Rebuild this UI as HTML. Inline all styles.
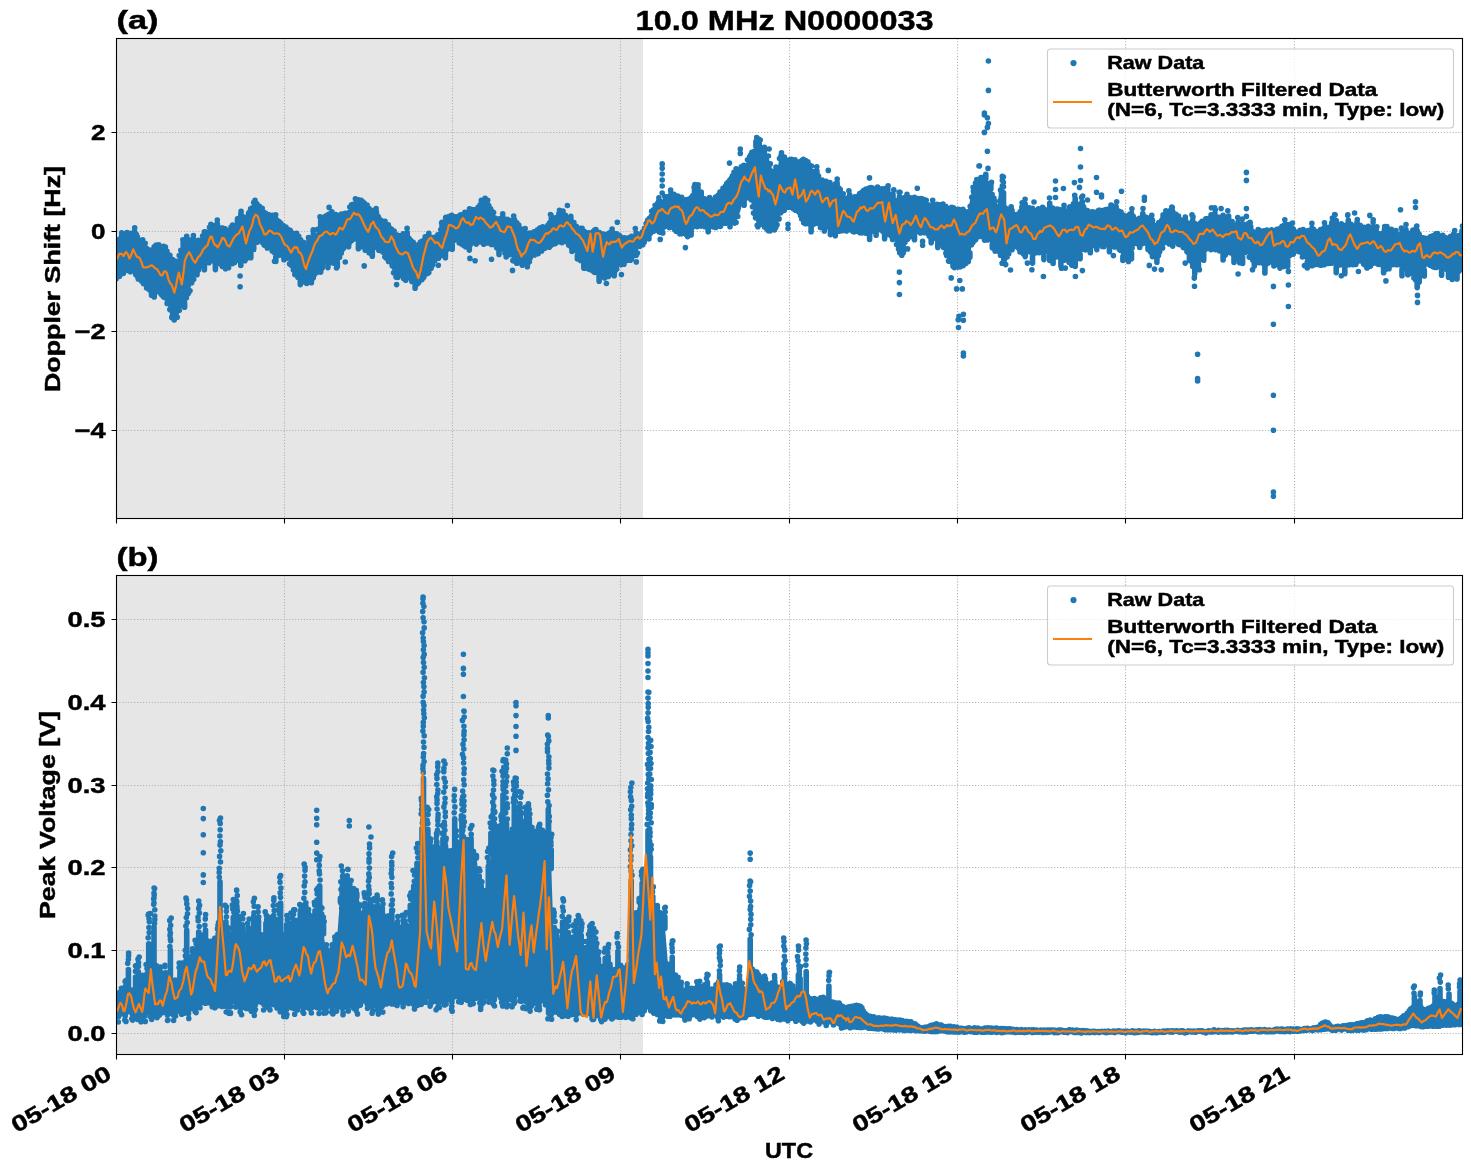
<!DOCTYPE html><html><head><meta charset="utf-8"><style>html,body{margin:0;padding:0;background:#fff;overflow:hidden}svg{will-change:transform}</style></head><body><svg width="1471" height="1172" viewBox="0 0 1471 1172" style="display:block">
<rect width="100%" height="100%" fill="#fff"/>
<defs><clipPath id="ca"><rect x="116.5" y="38.5" width="1346.0" height="480.0"/></clipPath><clipPath id="cb"><rect x="116.5" y="575.5" width="1346.0" height="479.0"/></clipPath></defs>
<rect x="116.5" y="38.5" width="526.5" height="480.0" fill="#e6e6e6"/>
<path d="M116.5 38.5V518.5 M284.5 38.5V518.5 M452.5 38.5V518.5 M620.5 38.5V518.5 M789.5 38.5V518.5 M957.5 38.5V518.5 M1125.5 38.5V518.5 M1294.5 38.5V518.5 M116.5 132.5H1462.5 M116.5 231.5H1462.5 M116.5 331.5H1462.5 M116.5 430.5H1462.5" stroke="#b0b0b0" stroke-width="1.1" stroke-dasharray="1.1 1.83" fill="none"/>
<g clip-path="url(#ca)"><path d="M116.0 242.8 L126.0 233.0 L136.0 233.8 L146.0 248.8 L156.0 250.3 L166.0 250.3 L176.0 263.7 L186.0 236.8 L196.0 241.3 L206.0 233.8 L211.0 224.0 L216.0 226.3 L226.0 229.3 L236.0 223.4 L241.0 215.9 L246.0 217.4 L256.0 198.7 L266.0 214.4 L276.0 214.4 L286.0 227.8 L296.0 233.8 L306.0 245.8 L316.0 233.8 L325.0 214.4 L335.0 215.9 L346.0 213.8 L356.0 198.9 L366.0 203.4 L376.0 213.8 L386.0 225.8 L396.0 233.3 L406.0 234.8 L416.0 245.2 L426.0 237.8 L436.0 235.5 L446.0 224.3 L456.0 216.8 L466.0 210.8 L476.0 207.8 L483.0 198.9 L486.0 203.4 L496.0 216.8 L506.0 219.8 L516.0 222.8 L526.0 235.5 L536.0 228.8 L546.0 225.8 L555.0 216.8 L566.0 215.7 L576.0 224.7 L586.0 232.2 L596.0 230.7 L606.0 233.7 L616.0 233.7 L626.0 238.2 L636.0 236.7 L643.0 230.7 L649.0 217.2 L656.0 205.3 L661.0 200.8 L666.0 196.3 L676.0 194.8 L686.0 200.8 L696.0 191.8 L706.0 199.3 L716.0 197.8 L726.0 185.8 L736.0 169.4 L746.0 163.4 L756.0 144.0 L765.0 151.4 L768.0 156.0 L773.0 172.0 L776.0 175.0 L780.0 156.0 L786.0 160.9 L796.0 159.4 L806.0 160.2 L816.0 172.9 L826.0 181.9 L836.0 183.4 L846.0 198.3 L856.0 196.8 L866.0 189.3 L876.0 187.8 L886.0 189.3 L896.0 201.3 L906.0 198.3 L916.0 196.8 L926.0 201.3 L936.0 210.3 L946.0 207.3 L955.0 208.8 L968.0 211.0 L972.0 190.0 L976.0 178.9 L985.0 175.9 L990.0 184.0 L995.0 202.0 L1000.0 207.0 L1006.0 208.8 L1016.0 214.8 L1026.0 207.3 L1036.0 210.3 L1046.0 207.3 L1056.0 208.8 L1066.0 211.8 L1076.0 199.8 L1086.0 210.3 L1096.0 211.8 L1106.0 210.3 L1116.0 210.3 L1126.0 216.3 L1136.0 217.8 L1146.0 217.8 L1156.0 226.7 L1166.0 213.3 L1175.0 214.8 L1185.0 220.7 L1196.0 226.7 L1205.0 219.3 L1215.0 217.8 L1226.0 218.6 L1236.0 225.4 L1246.0 228.8 L1256.0 230.5 L1266.0 231.3 L1276.0 230.5 L1286.0 225.4 L1296.0 230.5 L1306.0 230.5 L1316.0 232.2 L1326.0 228.8 L1336.0 223.7 L1346.0 225.4 L1356.0 223.7 L1366.0 225.4 L1376.0 232.2 L1386.0 235.6 L1396.0 235.6 L1406.0 233.9 L1416.0 233.9 L1426.0 239.0 L1436.0 233.9 L1446.0 237.3 L1456.0 235.6 L1462.5 234.7 L1462.5 268.4 L1456.0 271.8 L1446.0 268.4 L1436.0 266.7 L1426.0 265.0 L1416.0 280.3 L1406.0 268.4 L1396.0 263.3 L1386.0 265.0 L1376.0 263.3 L1366.0 258.2 L1356.0 263.3 L1346.0 265.0 L1336.0 263.3 L1326.0 263.3 L1316.0 265.0 L1306.0 258.2 L1296.0 251.4 L1286.0 258.2 L1276.0 258.2 L1266.0 263.3 L1256.0 261.6 L1246.0 253.1 L1236.0 256.5 L1226.0 251.4 L1215.0 248.6 L1205.0 248.6 L1196.0 269.6 L1185.0 245.7 L1175.0 242.7 L1166.0 242.7 L1156.0 257.6 L1146.0 244.2 L1136.0 242.7 L1126.0 259.1 L1116.0 245.7 L1106.0 245.7 L1096.0 245.7 L1086.0 245.7 L1076.0 257.6 L1066.0 254.6 L1056.0 257.6 L1046.0 250.1 L1036.0 253.1 L1026.0 253.1 L1016.0 245.7 L1010.0 250.0 L1006.0 264.0 L1002.0 262.0 L998.0 248.0 L990.0 241.0 L978.0 237.0 L972.0 244.0 L969.0 260.0 L964.0 264.0 L958.0 270.0 L952.0 268.0 L947.0 258.0 L942.0 246.0 L936.0 239.7 L926.0 233.7 L916.0 233.7 L906.0 239.7 L901.0 256.1 L896.0 242.7 L886.0 230.7 L876.0 230.7 L866.0 232.2 L856.0 232.2 L846.0 230.7 L836.0 230.7 L826.0 229.2 L816.0 224.7 L808.0 224.0 L803.0 223.0 L797.0 210.0 L788.0 207.0 L780.0 216.0 L776.0 231.0 L766.0 229.0 L757.0 225.0 L753.0 210.0 L750.0 197.0 L744.0 198.0 L740.0 212.0 L736.0 222.0 L726.0 222.7 L716.0 227.2 L706.0 225.7 L696.0 225.7 L686.0 237.7 L676.0 230.2 L666.0 228.7 L661.0 234.7 L656.0 228.7 L649.0 234.7 L643.0 237.7 L636.0 255.6 L626.0 261.6 L616.0 269.1 L606.0 279.5 L596.0 272.1 L586.0 267.6 L576.0 252.6 L566.0 240.7 L555.0 243.2 L546.0 247.7 L536.0 253.7 L526.0 264.2 L516.0 264.2 L506.0 249.2 L496.0 247.7 L486.0 241.7 L476.0 243.2 L466.0 246.2 L456.0 240.2 L446.0 250.7 L436.0 259.7 L426.0 276.1 L416.0 285.1 L406.0 273.1 L396.0 277.6 L386.0 256.7 L376.0 247.7 L366.0 250.7 L356.0 238.7 L346.0 243.2 L335.0 264.7 L325.0 258.7 L316.0 273.7 L306.0 284.2 L296.0 275.2 L286.0 255.7 L276.0 255.7 L266.0 245.3 L256.0 240.8 L246.0 260.2 L236.0 261.7 L226.0 269.2 L216.0 261.7 L206.0 261.7 L196.0 272.2 L186.0 300.6 L182.0 304.0 L177.0 320.0 L171.0 318.0 L166.0 297.6 L156.0 290.0 L146.0 288.6 L136.0 273.7 L126.0 270.7 L116.0 278.2Z" fill="#1f77b4"/><path d="M121.7 235.7V239.2M134.5 231.3V235.7M143.3 242.9V246.7M151.5 290.9V295.2M154.2 246.7V252.0M154.2 291.8V296.9M155.6 248.2V252.2M159.3 248.2V252.3M164.1 249.0V252.3M176.0 261.3V265.6M183.2 242.7V246.4M184.6 303.2V307.3M193.4 238.6V242.1M197.0 269.2V274.8M204.4 231.7V237.0M204.4 265.2V269.8M215.4 264.2V269.6M217.3 223.9V228.7M237.5 218.9V223.2M240.8 214.4V218.2M240.8 261.9V265.5M250.8 252.9V257.8M253.7 246.1V249.4M275.8 257.1V261.5M284.0 256.5V259.8M300.3 280.5V284.6M308.9 240.7V244.4M311.4 279.3V282.7M313.3 233.9V239.1M320.7 220.8V225.6M320.7 267.6V272.1M322.2 264.3V267.9M327.9 262.6V267.6M331.9 211.7V217.4M337.3 261.9V266.4M348.6 243.0V246.7M358.4 243.7V248.7M369.2 247.7V252.9M372.3 251.0V256.2M376.4 212.1V216.3M385.0 221.4V226.6M388.3 224.7V229.5M403.6 275.0V278.4M405.7 275.3V280.3M407.2 232.8V238.1M415.1 284.8V288.2M428.8 233.3V239.2M442.0 226.2V230.8M445.4 221.7V226.9M445.4 253.1V257.7M448.1 220.2V224.7M451.0 218.5V222.6M452.2 245.3V249.2M469.3 246.3V250.1M483.7 240.0V244.3M485.1 198.2V204.1M487.0 203.2V206.8M499.0 249.9V254.4M502.9 217.0V220.9M505.0 249.8V253.2M506.2 251.8V257.0M514.5 219.7V224.4M524.7 231.9V235.8M527.3 260.8V266.7M551.3 218.2V222.5M558.8 213.9V218.4M562.2 214.3V218.1M570.8 216.4V222.0M572.0 245.9V251.5M577.4 255.5V259.0M583.8 262.3V268.1M599.1 276.3V281.2M612.1 232.0V235.7M614.2 272.0V275.7M636.1 233.1V238.6M642.8 240.1V244.8M644.2 238.3V242.3M648.9 235.6V239.0M658.9 200.8V204.7M671.0 193.4V197.5M691.1 229.6V234.9M694.5 190.8V195.1M695.8 188.7V194.0M701.2 192.1V197.7M708.2 227.5V231.8M730.0 223.3V226.8M744.1 200.2V205.3M755.9 141.5V146.3M759.2 143.3V148.6M764.4 147.4V152.9M776.1 171.3V176.5M781.1 155.6V158.9M784.4 157.1V161.6M811.1 226.6V231.8M816.9 170.8V175.7M824.3 226.5V230.9M830.4 230.9V234.6M832.2 228.1V233.3M835.3 231.8V235.7M837.1 182.7V187.1M849.7 194.8V199.7M869.6 234.1V239.5M876.1 231.6V235.2M884.6 233.3V238.8M887.8 189.3V193.5M893.0 194.3V199.7M899.4 196.7V202.3M903.2 249.6V253.0M907.0 194.2V200.2M914.5 235.8V239.7M931.2 238.4V242.8M933.0 204.4V209.6M937.8 207.7V211.8M937.8 243.1V247.4M940.0 207.7V211.1M943.3 206.8V210.1M969.9 252.9V257.3M985.8 174.2V179.1M990.9 185.4V189.1M992.3 244.0V247.7M995.1 246.9V251.1M1003.6 205.9V210.1M1012.0 210.2V214.4M1020.0 246.7V252.0M1021.9 207.0V212.4M1023.5 249.2V254.1M1025.2 204.1V209.9M1025.2 253.2V256.6M1032.5 256.5V263.1M1043.9 253.6V259.6M1049.7 203.3V209.8M1049.7 255.2V260.5M1053.1 258.0V263.5M1060.9 259.4V265.8M1063.9 208.8V213.2M1063.9 256.4V260.3M1069.0 257.5V262.3M1072.2 259.3V265.3M1073.6 254.9V259.4M1075.2 198.7V202.7M1075.2 260.4V266.5M1080.1 254.4V258.8M1082.2 201.6V208.3M1085.4 244.4V250.0M1090.3 247.8V252.7M1096.8 243.7V249.6M1109.4 247.3V251.8M1110.8 208.3V212.3M1116.1 206.5V212.4M1122.9 256.3V260.5M1128.5 256.8V261.4M1130.1 214.1V218.9M1131.5 213.4V219.1M1131.5 252.9V258.8M1139.7 244.1V247.5M1142.8 213.6V219.8M1148.0 244.8V249.5M1152.4 220.0V225.5M1152.4 250.8V256.6M1156.9 257.9V262.2M1163.1 214.9V219.2M1165.9 210.8V215.4M1169.8 210.7V215.9M1172.7 211.3V216.4M1172.7 240.7V246.1M1183.4 243.2V247.6M1185.3 217.1V222.8M1189.4 256.5V260.6M1192.7 220.3V226.9M1192.7 263.1V266.5M1194.8 223.5V228.1M1194.8 268.8V273.4M1198.5 264.9V268.7M1203.7 254.4V260.2M1211.1 214.8V220.4M1214.9 213.2V219.8M1223.1 215.3V220.4M1223.1 253.8V260.0M1225.3 249.2V254.9M1228.6 216.0V222.4M1234.0 257.5V262.5M1235.2 254.1V258.9M1238.0 222.4V228.1M1239.7 257.5V262.7M1242.6 223.9V229.6M1242.6 257.3V263.5M1247.4 227.1V231.0M1250.7 226.5V231.6M1254.3 261.7V265.9M1264.9 266.4V272.9M1273.9 261.2V266.0M1277.4 260.0V264.7M1280.0 261.6V268.1M1281.9 256.2V261.0M1283.8 260.8V266.4M1287.7 260.2V266.5M1289.7 224.6V229.3M1307.3 262.0V268.0M1312.0 228.0V233.5M1312.0 260.3V265.8M1313.8 229.6V233.8M1325.3 226.6V231.0M1331.8 222.5V227.8M1334.7 219.9V226.3M1336.2 220.5V225.7M1336.2 266.4V272.6M1344.8 267.7V273.7M1348.3 220.3V227.0M1357.0 222.4V225.9M1363.6 260.4V264.1M1367.1 261.8V267.9M1370.5 261.9V266.1M1373.4 226.9V232.5M1376.2 230.1V234.3M1383.6 232.9V236.8M1383.6 267.1V272.7M1385.0 231.3V237.3M1385.0 266.1V270.0M1387.1 231.5V237.6M1389.0 265.3V268.7M1390.9 233.9V237.6M1392.2 233.0V237.6M1396.0 233.8V237.6M1402.0 231.9V236.6M1402.0 269.5V275.7M1406.0 229.6V235.9M1407.8 271.3V274.7M1412.9 230.0V235.9M1417.2 230.7V236.5M1417.2 281.4V287.6M1419.2 277.2V281.9M1423.1 270.2V273.6M1424.3 270.3V275.9M1441.6 270.0V275.2M1448.5 271.8V277.3M1453.8 233.9V238.0M1453.8 271.8V275.1M1457.0 273.6V278.9M1462.0 230.9V236.8M1003.5 192.8V212.0M1000.5 199.9V212.0" stroke="#1f77b4" stroke-width="5.6" stroke-linecap="round" fill="none"/><path d="M116.3 241.4h0M116.2 278.8h0M118.3 240.1h0M118.3 276.6h0M119.7 239.0h0M119.5 276.2h0M122.2 272.9h0M124.0 240.2h0M123.3 273.5h0M125.0 235.1h0M125.5 270.2h0M127.0 232.6h0M127.4 270.5h0M128.3 234.7h0M129.2 271.1h0M130.4 233.3h0M130.3 271.8h0M132.9 239.7h0M132.5 269.9h0M134.6 271.5h0M136.4 234.5h0M135.7 274.6h0M137.3 236.7h0M137.5 276.8h0M138.8 239.7h0M138.3 278.9h0M140.3 243.1h0M140.8 278.9h0M141.8 242.3h0M141.4 281.0h0M143.4 283.6h0M144.5 249.2h0M144.9 283.7h0M146.4 248.3h0M146.6 288.0h0M147.9 250.2h0M148.6 289.1h0M150.0 250.1h0M149.5 289.7h0M151.9 251.9h0M153.3 249.9h0M153.3 289.8h0M155.5 290.9h0M156.8 250.3h0M157.0 291.8h0M159.5 288.7h0M161.0 253.6h0M161.2 294.3h0M162.7 249.6h0M162.6 295.7h0M163.8 297.1h0M165.5 250.3h0M166.3 298.3h0M167.0 251.2h0M167.1 303.4h0M169.9 255.4h0M169.8 309.6h0M171.1 262.1h0M171.8 317.4h0M172.7 259.6h0M172.4 315.5h0M174.3 261.8h0M174.2 320.0h0M176.4 316.5h0M177.1 261.6h0M177.3 317.2h0M179.2 255.6h0M179.4 310.2h0M180.8 250.4h0M181.7 305.2h0M183.2 300.7h0M184.7 243.1h0M186.7 236.4h0M186.4 297.8h0M188.2 239.6h0M188.3 293.6h0M190.0 240.4h0M190.0 290.8h0M192.2 239.7h0M191.7 282.7h0M193.7 279.3h0M194.4 242.7h0M195.0 273.6h0M196.8 241.1h0M198.4 240.3h0M198.7 269.8h0M200.3 241.7h0M200.2 266.2h0M202.6 236.0h0M203.0 259.4h0M205.9 232.1h0M205.8 258.4h0M208.3 232.2h0M207.7 260.9h0M209.5 227.3h0M209.0 262.7h0M210.9 224.4h0M211.6 260.2h0M213.7 229.7h0M213.8 261.1h0M215.5 225.3h0M216.8 263.5h0M219.0 229.8h0M219.1 260.6h0M220.6 228.0h0M220.1 263.8h0M221.9 228.0h0M222.3 266.5h0M223.2 228.2h0M222.9 265.4h0M225.1 228.9h0M225.5 268.8h0M227.4 232.8h0M227.2 265.9h0M228.9 231.1h0M228.6 267.7h0M231.1 227.1h0M230.6 263.4h0M232.6 225.1h0M232.3 263.6h0M233.9 225.7h0M234.5 262.6h0M236.5 227.5h0M235.9 260.0h0M237.9 258.9h0M238.5 218.8h0M238.7 260.5h0M242.3 216.4h0M242.5 259.4h0M244.2 218.0h0M243.3 258.6h0M245.2 218.9h0M244.9 260.8h0M246.8 217.0h0M246.4 258.4h0M248.6 213.4h0M248.1 257.0h0M249.3 212.2h0M249.3 253.4h0M250.6 208.7h0M252.4 207.8h0M252.1 247.9h0M253.7 202.6h0M255.0 200.2h0M254.9 241.1h0M256.9 203.7h0M257.1 242.3h0M259.4 206.4h0M259.4 237.9h0M261.2 209.1h0M260.9 241.1h0M262.2 208.3h0M262.9 243.1h0M263.7 212.0h0M264.2 245.1h0M265.7 213.3h0M265.1 245.1h0M267.8 216.9h0M267.3 247.9h0M269.0 214.8h0M269.6 244.3h0M271.3 215.7h0M271.4 248.2h0M272.7 215.3h0M272.2 251.0h0M273.8 216.1h0M273.7 251.9h0M275.7 214.7h0M277.3 220.6h0M277.8 252.4h0M279.0 221.6h0M279.5 255.1h0M280.8 223.4h0M281.5 253.4h0M283.2 225.5h0M282.7 255.6h0M284.0 226.2h0M285.9 227.0h0M285.5 254.7h0M288.0 229.4h0M287.4 258.1h0M290.2 230.4h0M289.6 263.9h0M291.4 233.4h0M291.4 265.2h0M293.1 233.4h0M293.3 269.7h0M294.6 234.4h0M294.8 274.4h0M296.6 233.2h0M295.9 271.6h0M298.7 236.4h0M297.9 277.2h0M300.6 239.8h0M302.3 242.0h0M301.5 277.1h0M303.5 242.2h0M303.3 279.9h0M305.3 244.8h0M305.2 282.3h0M306.6 245.7h0M306.7 283.5h0M309.1 276.4h0M309.7 240.5h0M309.8 280.5h0M311.2 240.1h0M313.3 277.7h0M314.8 238.7h0M314.1 275.1h0M316.8 236.4h0M316.8 272.4h0M317.6 229.4h0M317.7 271.0h0M319.8 229.6h0M319.0 269.1h0M321.7 222.0h0M324.6 216.7h0M323.9 260.7h0M326.1 215.9h0M326.7 259.4h0M328.3 214.5h0M329.5 214.0h0M330.1 260.7h0M331.4 262.5h0M333.7 215.4h0M333.3 263.1h0M335.8 214.6h0M336.0 262.1h0M337.3 215.9h0M339.1 215.4h0M339.6 257.2h0M341.4 214.0h0M341.3 253.1h0M341.8 218.5h0M342.6 249.3h0M344.2 215.3h0M343.7 247.9h0M345.1 213.4h0M345.7 243.7h0M347.0 214.5h0M346.9 240.4h0M349.0 212.5h0M349.8 207.0h0M350.0 242.1h0M351.6 204.8h0M351.9 240.3h0M353.3 204.2h0M354.1 238.9h0M355.4 198.8h0M356.2 237.1h0M357.0 202.3h0M356.7 235.4h0M358.5 199.7h0M359.9 203.3h0M359.9 242.9h0M361.2 200.2h0M361.1 244.9h0M363.1 202.0h0M363.2 246.9h0M364.6 203.5h0M365.3 250.3h0M367.1 205.0h0M366.8 249.3h0M369.1 208.5h0M371.1 210.3h0M371.0 248.7h0M372.0 211.5h0M374.7 211.3h0M374.5 244.8h0M375.9 247.5h0M378.2 216.5h0M378.2 247.4h0M378.7 217.9h0M378.8 250.2h0M381.0 220.2h0M380.9 250.8h0M382.7 223.2h0M383.3 252.2h0M384.8 256.7h0M386.3 226.6h0M386.2 258.1h0M388.5 261.4h0M390.1 228.3h0M390.2 261.4h0M391.6 229.3h0M392.2 265.7h0M394.1 231.1h0M393.6 272.7h0M395.4 234.4h0M396.0 277.1h0M397.2 235.0h0M397.8 277.5h0M398.7 238.1h0M399.4 275.2h0M400.1 235.8h0M399.9 270.6h0M402.6 235.1h0M402.0 275.2h0M403.3 233.8h0M405.2 237.2h0M407.2 273.9h0M409.0 238.3h0M408.7 277.2h0M410.9 240.5h0M410.5 278.5h0M412.2 246.1h0M411.9 281.4h0M413.2 242.4h0M414.0 281.6h0M414.8 245.4h0M417.5 245.6h0M417.4 283.8h0M418.5 244.6h0M418.7 282.4h0M420.5 242.1h0M420.1 279.4h0M422.0 241.2h0M422.0 279.6h0M424.2 240.0h0M423.8 277.2h0M425.2 236.9h0M425.2 274.5h0M427.4 237.4h0M427.5 273.5h0M428.8 272.4h0M430.7 237.6h0M431.1 268.3h0M432.6 240.2h0M432.6 265.1h0M434.2 237.2h0M434.8 260.6h0M436.4 237.0h0M436.7 258.1h0M437.8 234.7h0M438.5 258.2h0M440.7 229.8h0M440.8 255.8h0M442.3 252.5h0M444.4 226.2h0M444.1 253.3h0M446.2 224.0h0M447.1 249.4h0M448.4 248.4h0M449.1 222.1h0M449.0 246.6h0M450.5 245.4h0M452.3 222.0h0M454.0 218.0h0M453.8 240.6h0M455.6 216.7h0M455.4 236.6h0M457.3 216.7h0M457.3 239.3h0M458.4 216.4h0M459.1 242.8h0M460.6 214.7h0M461.2 243.7h0M463.2 214.5h0M463.2 245.1h0M464.9 212.3h0M464.9 243.5h0M466.2 213.8h0M465.6 246.7h0M467.4 215.0h0M467.0 244.4h0M469.5 208.9h0M470.3 209.4h0M470.9 244.1h0M472.0 209.5h0M472.3 241.6h0M474.2 209.9h0M474.6 240.9h0M475.6 209.8h0M476.3 244.1h0M478.1 207.3h0M478.0 241.7h0M480.1 204.8h0M479.4 241.9h0M481.3 200.2h0M481.2 241.5h0M483.9 200.5h0M485.3 242.0h0M486.6 242.9h0M488.8 205.5h0M488.1 240.3h0M490.6 208.8h0M490.5 243.8h0M491.7 211.1h0M491.6 244.4h0M493.6 212.6h0M494.2 244.4h0M495.0 218.0h0M495.4 244.6h0M496.5 222.1h0M496.7 247.8h0M499.3 218.9h0M500.7 219.0h0M500.9 248.7h0M502.5 246.8h0M504.9 219.7h0M506.0 222.8h0M507.4 219.2h0M507.9 247.6h0M509.4 220.4h0M509.2 254.8h0M511.6 221.1h0M510.8 253.9h0M513.1 222.0h0M512.8 260.6h0M514.5 261.1h0M516.8 222.8h0M516.7 263.3h0M518.8 225.1h0M518.7 261.1h0M520.8 228.7h0M520.3 262.8h0M522.6 231.4h0M522.3 265.3h0M524.5 261.7h0M525.7 236.2h0M526.1 263.8h0M527.6 234.1h0M529.5 233.0h0M529.4 261.7h0M530.2 233.8h0M530.3 257.7h0M532.0 233.0h0M531.6 254.1h0M534.0 231.9h0M534.5 254.9h0M535.7 233.9h0M536.0 253.3h0M537.5 229.9h0M538.1 253.7h0M539.8 228.0h0M539.8 248.2h0M541.1 227.5h0M541.7 250.9h0M542.8 226.7h0M542.9 248.4h0M544.3 228.4h0M544.8 248.2h0M546.0 228.4h0M546.0 245.3h0M547.9 225.4h0M547.8 244.9h0M549.5 223.0h0M549.3 247.2h0M551.0 245.3h0M553.4 220.3h0M553.0 244.1h0M555.3 217.7h0M555.3 243.6h0M557.1 219.2h0M556.2 242.5h0M559.2 240.3h0M560.3 218.3h0M559.9 242.0h0M562.0 242.6h0M564.4 214.9h0M564.0 237.1h0M565.4 215.2h0M565.2 241.5h0M567.3 218.9h0M567.4 240.2h0M568.8 218.5h0M568.6 244.9h0M571.0 246.8h0M572.2 222.3h0M573.9 222.6h0M574.0 250.2h0M576.3 226.3h0M576.0 249.1h0M577.0 228.3h0M578.7 231.6h0M578.8 256.1h0M580.7 228.2h0M580.5 260.4h0M582.1 228.2h0M581.7 257.4h0M584.1 231.4h0M585.6 233.0h0M585.4 268.2h0M587.1 232.8h0M587.4 266.4h0M589.2 232.9h0M589.2 269.3h0M591.4 233.9h0M591.0 270.0h0M593.5 231.2h0M593.4 271.3h0M594.9 229.8h0M594.7 272.5h0M595.9 229.6h0M595.6 272.1h0M597.3 235.9h0M597.9 272.8h0M599.4 232.5h0M601.4 234.7h0M601.1 275.7h0M603.0 234.0h0M602.8 277.0h0M604.9 234.5h0M604.7 277.9h0M606.5 234.7h0M607.3 276.3h0M609.0 233.3h0M608.4 276.5h0M610.1 232.6h0M610.4 274.3h0M612.3 271.5h0M613.9 233.4h0M615.7 235.0h0M615.4 270.2h0M616.7 233.7h0M616.7 269.0h0M619.4 235.5h0M619.3 262.1h0M621.3 237.4h0M621.3 264.6h0M622.4 238.5h0M622.4 263.1h0M624.4 237.8h0M624.0 264.2h0M625.2 238.2h0M625.7 260.8h0M627.5 238.0h0M626.9 259.7h0M628.8 238.4h0M629.0 260.3h0M630.1 240.5h0M630.4 260.2h0M631.5 236.4h0M631.3 259.3h0M632.8 236.7h0M632.4 256.6h0M634.6 238.6h0M634.9 253.6h0M636.2 255.2h0M637.7 238.9h0M637.4 253.1h0M639.1 234.4h0M639.7 246.3h0M640.5 234.6h0M641.1 241.3h0M642.6 231.8h0M644.5 228.4h0M646.1 223.5h0M645.8 234.6h0M647.6 220.3h0M647.6 234.5h0M649.2 218.6h0M651.2 216.3h0M650.7 232.9h0M651.6 211.2h0M651.8 230.1h0M653.5 209.8h0M653.9 231.1h0M655.1 205.3h0M655.6 225.4h0M657.8 203.1h0M657.8 230.2h0M659.0 231.8h0M660.0 201.4h0M660.4 232.3h0M662.3 205.3h0M662.8 232.9h0M664.8 196.6h0M665.1 222.5h0M665.7 197.3h0M666.3 224.4h0M667.9 196.8h0M668.1 224.2h0M669.3 198.6h0M669.3 227.6h0M670.8 226.9h0M672.7 194.5h0M672.9 225.4h0M674.0 194.3h0M674.8 230.0h0M676.1 196.3h0M676.3 231.5h0M677.8 196.1h0M678.6 230.1h0M679.9 198.0h0M679.9 234.0h0M681.7 197.2h0M681.4 233.8h0M683.5 203.6h0M683.6 231.2h0M685.6 199.9h0M686.0 233.9h0M688.3 199.4h0M687.6 236.6h0M689.5 200.4h0M689.2 233.8h0M691.3 197.5h0M692.6 195.8h0M692.9 226.7h0M695.0 223.9h0M696.2 223.3h0M697.6 194.0h0M697.2 226.6h0M699.6 193.4h0M699.8 224.4h0M701.1 226.1h0M703.2 199.9h0M703.1 224.3h0M704.6 198.7h0M705.0 226.8h0M706.3 200.0h0M706.7 223.7h0M707.9 201.8h0M709.6 197.6h0M709.9 219.0h0M711.1 199.6h0M711.7 225.9h0M713.5 199.7h0M713.3 227.0h0M715.6 197.0h0M715.8 227.4h0M717.1 200.3h0M717.1 225.8h0M718.4 195.0h0M718.3 226.0h0M720.0 192.1h0M720.3 226.5h0M721.6 193.9h0M720.8 225.5h0M723.0 188.3h0M723.2 221.2h0M725.3 186.4h0M725.4 223.3h0M726.6 183.9h0M727.0 219.4h0M728.3 182.0h0M727.9 222.3h0M730.0 179.9h0M731.7 177.7h0M731.2 220.5h0M732.5 175.9h0M732.7 220.2h0M734.0 172.3h0M734.7 223.1h0M736.1 168.8h0M736.1 222.5h0M738.3 172.8h0M737.8 216.5h0M739.4 171.1h0M740.0 203.6h0M741.3 166.9h0M741.4 203.0h0M742.5 169.7h0M743.0 201.6h0M743.8 165.3h0M745.6 168.6h0M746.3 194.9h0M747.5 159.8h0M747.8 197.7h0M749.6 156.9h0M749.7 196.0h0M750.8 154.9h0M751.2 199.7h0M751.9 152.3h0M752.5 206.8h0M753.3 151.8h0M753.5 213.1h0M755.5 217.8h0M757.8 145.6h0M757.2 225.2h0M758.7 225.2h0M760.1 147.8h0M760.3 222.6h0M762.7 148.3h0M762.5 224.3h0M764.5 226.9h0M766.2 156.6h0M766.7 228.7h0M768.4 156.0h0M768.2 230.6h0M770.3 163.9h0M770.0 231.0h0M772.4 171.2h0M772.5 224.9h0M774.4 174.6h0M774.4 230.0h0M775.8 227.4h0M777.6 169.4h0M777.1 224.7h0M779.5 158.6h0M779.1 218.9h0M780.7 212.7h0M782.5 159.9h0M782.7 211.0h0M784.3 210.3h0M786.6 161.6h0M786.0 206.0h0M788.1 160.5h0M787.3 207.3h0M789.4 159.7h0M789.7 207.1h0M791.4 159.3h0M791.5 206.8h0M793.0 160.7h0M793.4 208.7h0M795.0 159.7h0M795.6 210.2h0M796.9 164.1h0M797.0 209.2h0M798.8 163.5h0M798.8 211.9h0M800.3 161.6h0M800.7 215.8h0M802.1 160.3h0M801.7 219.0h0M803.4 159.4h0M803.7 222.7h0M805.7 160.6h0M805.6 223.7h0M807.9 161.8h0M807.5 223.4h0M809.8 165.2h0M809.4 220.1h0M811.5 166.0h0M813.1 173.5h0M813.0 224.5h0M815.0 171.3h0M814.4 223.8h0M816.6 223.1h0M818.5 176.1h0M818.8 221.4h0M820.3 181.1h0M820.4 227.4h0M822.0 180.0h0M822.8 225.5h0M824.0 181.1h0M826.1 181.2h0M825.4 225.8h0M827.3 182.5h0M827.3 226.4h0M829.1 183.6h0M828.8 226.6h0M829.9 182.6h0M832.3 185.4h0M833.7 185.2h0M833.5 229.5h0M835.6 183.9h0M837.3 228.7h0M838.9 188.1h0M838.6 231.2h0M840.3 189.5h0M839.7 230.9h0M841.5 195.9h0M842.1 230.7h0M843.3 193.7h0M843.1 229.8h0M845.2 198.7h0M845.0 227.6h0M846.7 198.7h0M846.5 230.9h0M848.1 197.7h0M848.5 229.8h0M849.5 227.8h0M851.4 198.0h0M851.5 229.7h0M852.9 200.7h0M852.8 231.2h0M854.8 196.9h0M854.0 232.0h0M856.3 198.0h0M856.5 231.1h0M857.9 196.4h0M858.2 228.8h0M859.7 193.6h0M860.0 232.7h0M862.5 191.8h0M862.0 233.0h0M863.8 190.2h0M863.2 229.5h0M866.0 189.0h0M866.1 233.2h0M867.4 191.3h0M867.8 228.9h0M869.2 188.0h0M871.0 187.5h0M870.4 232.2h0M872.2 187.9h0M872.2 229.1h0M874.4 192.0h0M873.9 230.9h0M876.3 191.9h0M877.6 187.0h0M878.1 227.5h0M879.3 189.4h0M878.9 228.8h0M881.0 190.6h0M880.6 229.7h0M882.1 188.9h0M882.7 231.3h0M885.0 191.5h0M885.7 188.3h0M886.5 227.1h0M887.3 233.8h0M889.3 194.6h0M888.7 234.4h0M891.6 196.2h0M891.2 235.9h0M892.6 239.4h0M894.4 201.1h0M894.8 236.7h0M895.9 200.9h0M896.5 244.5h0M897.7 202.8h0M898.5 249.0h0M899.7 252.8h0M901.3 200.7h0M901.8 255.3h0M902.9 200.3h0M904.5 197.5h0M905.0 242.2h0M907.4 239.2h0M908.9 200.5h0M908.5 237.0h0M910.5 197.9h0M910.7 236.6h0M913.2 198.8h0M913.1 235.4h0M914.5 197.3h0M916.8 199.8h0M916.1 231.8h0M918.3 198.6h0M918.5 231.4h0M919.6 200.1h0M919.0 231.0h0M921.1 198.5h0M920.4 232.9h0M922.3 198.9h0M922.4 232.1h0M924.4 199.9h0M924.5 232.8h0M926.2 200.2h0M925.6 232.7h0M928.4 204.7h0M928.1 233.7h0M929.7 208.0h0M929.2 236.1h0M930.8 206.4h0M932.6 237.3h0M934.6 207.9h0M934.6 236.2h0M936.7 209.3h0M936.7 239.3h0M939.5 244.8h0M941.2 209.7h0M941.5 244.4h0M943.6 247.4h0M945.7 206.4h0M945.8 253.3h0M947.3 208.4h0M946.6 255.4h0M949.0 210.5h0M948.5 261.1h0M950.4 209.4h0M949.5 260.7h0M951.7 207.4h0M950.8 261.2h0M953.4 207.8h0M953.0 266.2h0M954.4 210.2h0M954.4 267.6h0M955.9 209.2h0M956.2 266.5h0M958.6 209.3h0M958.6 265.8h0M959.6 211.3h0M959.9 267.0h0M960.6 212.0h0M961.0 265.0h0M962.9 209.3h0M963.2 265.6h0M964.1 211.1h0M963.8 260.5h0M966.1 212.5h0M965.8 263.5h0M968.2 211.7h0M968.3 261.4h0M970.2 206.4h0M971.7 197.2h0M971.5 244.7h0M973.1 187.2h0M973.1 242.2h0M975.5 183.0h0M975.6 239.7h0M976.8 179.6h0M977.1 237.1h0M979.5 179.8h0M978.7 234.3h0M980.9 177.5h0M980.1 236.4h0M982.5 177.6h0M982.4 234.7h0M984.5 179.3h0M984.5 240.1h0M985.3 236.8h0M987.2 183.5h0M987.3 239.9h0M989.8 184.3h0M989.2 238.8h0M991.2 239.4h0M992.1 194.2h0M993.9 198.0h0M993.4 244.4h0M995.2 201.3h0M997.0 206.8h0M996.9 247.6h0M998.5 207.6h0M998.8 251.2h0M1000.4 211.4h0M1000.5 255.3h0M1002.6 206.5h0M1002.1 263.3h0M1003.6 260.7h0M1005.4 208.0h0M1005.7 264.6h0M1007.5 209.0h0M1007.1 257.0h0M1008.8 211.0h0M1008.7 253.9h0M1011.1 215.9h0M1010.8 247.7h0M1012.0 249.7h0M1014.0 215.3h0M1014.6 246.6h0M1016.4 214.5h0M1016.0 245.2h0M1017.9 214.9h0M1018.3 248.1h0M1020.1 211.9h0M1022.0 250.8h0M1023.7 208.3h0M1026.6 211.0h0M1027.4 251.5h0M1029.3 207.7h0M1028.6 250.3h0M1030.3 210.4h0M1030.5 251.9h0M1032.4 208.4h0M1033.6 210.6h0M1033.8 249.2h0M1035.0 211.9h0M1034.7 253.3h0M1037.1 210.1h0M1036.7 252.4h0M1038.5 208.7h0M1039.0 252.7h0M1040.7 211.9h0M1040.3 249.3h0M1042.6 207.4h0M1042.2 248.6h0M1043.4 208.6h0M1045.8 210.7h0M1045.7 247.0h0M1047.3 211.8h0M1047.8 251.3h0M1051.7 209.3h0M1051.5 253.1h0M1052.7 208.1h0M1054.6 210.0h0M1055.0 254.8h0M1057.2 209.0h0M1057.0 257.0h0M1059.5 209.6h0M1058.8 253.0h0M1061.3 213.3h0M1062.9 210.9h0M1062.5 253.7h0M1065.4 211.5h0M1065.4 253.9h0M1067.2 212.0h0M1067.3 254.7h0M1069.4 207.5h0M1069.9 206.9h0M1070.6 257.1h0M1071.9 207.7h0M1073.5 203.9h0M1076.3 203.8h0M1076.4 257.5h0M1078.8 206.4h0M1078.2 254.6h0M1080.0 204.2h0M1082.1 249.2h0M1083.6 206.7h0M1083.9 248.9h0M1085.9 210.2h0M1087.3 210.6h0M1087.2 244.3h0M1088.3 212.6h0M1088.2 244.9h0M1090.0 212.2h0M1092.3 211.8h0M1091.7 246.0h0M1094.0 212.2h0M1094.1 241.7h0M1094.9 217.5h0M1095.5 246.1h0M1096.6 212.1h0M1098.7 210.2h0M1098.7 244.6h0M1099.9 210.2h0M1100.1 241.1h0M1102.0 211.2h0M1102.4 246.4h0M1103.7 210.3h0M1104.0 246.6h0M1106.0 209.5h0M1106.0 243.8h0M1108.1 209.2h0M1108.2 243.9h0M1109.8 210.8h0M1111.2 245.4h0M1112.5 209.9h0M1112.5 244.7h0M1114.6 209.5h0M1114.4 246.9h0M1116.3 242.9h0M1118.0 211.2h0M1117.8 245.5h0M1118.6 211.1h0M1119.2 249.3h0M1121.0 212.1h0M1120.4 250.2h0M1123.3 215.0h0M1124.5 217.3h0M1124.9 258.2h0M1126.3 217.1h0M1127.1 255.8h0M1128.3 215.6h0M1130.4 251.9h0M1133.2 216.3h0M1133.4 242.8h0M1135.0 219.2h0M1135.2 243.5h0M1136.7 220.6h0M1136.7 242.8h0M1138.3 220.0h0M1137.9 243.7h0M1139.3 218.3h0M1141.1 219.5h0M1140.9 244.1h0M1143.0 243.5h0M1144.5 216.8h0M1144.8 238.7h0M1146.8 217.6h0M1146.2 242.4h0M1148.3 219.0h0M1149.6 221.1h0M1149.7 246.9h0M1151.0 222.4h0M1150.4 251.8h0M1154.0 226.9h0M1154.2 255.7h0M1155.4 225.5h0M1154.7 254.7h0M1157.1 227.4h0M1158.8 222.5h0M1158.5 255.4h0M1159.9 223.3h0M1159.7 251.8h0M1161.8 220.3h0M1161.6 244.5h0M1162.6 247.9h0M1164.2 219.1h0M1164.5 242.6h0M1166.1 238.5h0M1168.1 214.7h0M1167.8 242.4h0M1169.3 243.9h0M1170.8 218.0h0M1170.9 243.6h0M1174.8 214.2h0M1174.3 241.9h0M1176.0 214.2h0M1175.9 240.3h0M1178.5 216.1h0M1178.5 244.3h0M1179.7 220.6h0M1180.1 244.7h0M1180.8 219.8h0M1181.4 243.6h0M1183.6 221.0h0M1185.2 245.8h0M1186.9 222.9h0M1186.9 251.4h0M1189.2 223.2h0M1190.2 223.6h0M1190.7 258.7h0M1197.0 226.1h0M1196.7 266.8h0M1198.6 224.4h0M1200.5 223.1h0M1200.9 258.9h0M1202.1 221.4h0M1201.9 255.1h0M1203.9 222.0h0M1205.8 218.9h0M1206.2 248.8h0M1207.9 218.6h0M1208.0 248.4h0M1209.7 220.2h0M1209.2 247.5h0M1211.0 249.6h0M1213.1 217.1h0M1212.7 248.2h0M1215.3 249.6h0M1216.9 219.9h0M1216.8 248.7h0M1218.2 217.4h0M1218.1 247.9h0M1219.3 217.4h0M1219.5 251.0h0M1221.4 218.2h0M1221.4 249.4h0M1225.0 218.3h0M1227.0 220.5h0M1226.8 250.6h0M1229.1 252.5h0M1230.4 223.6h0M1230.0 252.7h0M1232.1 221.6h0M1231.8 252.2h0M1234.0 225.1h0M1235.1 228.4h0M1236.9 225.2h0M1237.0 252.5h0M1237.7 253.1h0M1239.4 226.3h0M1241.1 227.3h0M1240.8 252.5h0M1243.9 227.1h0M1244.0 252.4h0M1245.4 231.6h0M1245.1 252.6h0M1247.0 250.9h0M1249.8 228.2h0M1249.2 257.1h0M1250.6 257.5h0M1253.2 231.7h0M1252.7 260.1h0M1254.7 232.5h0M1255.5 232.6h0M1255.3 258.7h0M1257.2 232.9h0M1256.6 262.4h0M1258.2 229.5h0M1257.8 261.2h0M1259.6 230.6h0M1259.4 262.6h0M1261.2 231.2h0M1261.5 261.3h0M1263.9 230.8h0M1263.0 263.2h0M1265.0 231.3h0M1266.9 230.1h0M1266.7 263.7h0M1268.0 232.5h0M1268.5 263.0h0M1270.4 232.4h0M1269.7 262.0h0M1271.7 229.7h0M1271.6 260.4h0M1273.4 231.4h0M1276.1 231.0h0M1276.0 259.1h0M1276.9 229.4h0M1278.9 230.0h0M1279.2 255.6h0M1279.8 228.6h0M1282.0 226.3h0M1284.1 227.4h0M1284.7 224.8h0M1284.8 259.2h0M1286.5 224.5h0M1286.1 257.2h0M1287.5 225.2h0M1289.5 255.8h0M1291.6 227.7h0M1292.0 253.8h0M1293.5 229.2h0M1293.3 254.1h0M1294.7 234.1h0M1294.7 247.6h0M1296.2 232.6h0M1296.9 248.2h0M1297.8 232.0h0M1298.4 251.4h0M1300.1 230.3h0M1300.5 252.1h0M1300.8 234.6h0M1301.4 251.4h0M1303.1 229.6h0M1302.4 257.0h0M1304.0 230.8h0M1304.6 254.2h0M1306.0 233.6h0M1305.9 256.1h0M1307.0 232.8h0M1308.1 230.6h0M1308.2 259.2h0M1309.6 232.4h0M1310.1 261.5h0M1314.1 264.7h0M1315.9 232.7h0M1315.4 260.2h0M1317.2 231.8h0M1317.7 264.4h0M1319.5 231.8h0M1318.8 264.6h0M1320.6 229.6h0M1321.0 265.2h0M1323.0 231.1h0M1322.9 262.0h0M1323.8 228.4h0M1324.2 264.8h0M1324.9 262.3h0M1326.9 228.5h0M1327.4 263.4h0M1328.1 229.7h0M1328.8 262.8h0M1330.3 226.7h0M1330.3 263.1h0M1331.4 263.3h0M1332.9 226.7h0M1333.4 262.2h0M1335.2 260.7h0M1338.4 225.6h0M1338.5 264.2h0M1340.2 227.2h0M1339.5 264.9h0M1341.4 223.9h0M1341.5 264.7h0M1343.1 226.9h0M1343.5 264.4h0M1344.6 226.2h0M1345.7 225.4h0M1345.7 259.3h0M1347.9 264.8h0M1349.8 225.4h0M1349.0 264.7h0M1351.1 224.4h0M1351.4 263.8h0M1353.4 225.9h0M1352.9 264.6h0M1354.6 226.5h0M1354.7 262.0h0M1355.8 226.4h0M1355.8 264.5h0M1356.9 262.1h0M1359.1 225.0h0M1359.0 260.1h0M1360.2 225.4h0M1360.6 261.0h0M1361.9 228.8h0M1361.9 259.0h0M1364.0 227.3h0M1366.2 229.9h0M1366.2 253.4h0M1367.2 228.2h0M1368.3 226.4h0M1368.9 260.5h0M1370.8 229.1h0M1372.5 228.7h0M1371.8 260.2h0M1373.3 263.1h0M1375.1 237.6h0M1374.7 262.9h0M1376.3 262.1h0M1378.1 234.7h0M1378.4 264.5h0M1380.0 233.7h0M1380.3 260.4h0M1381.7 236.7h0M1382.3 264.9h0M1387.5 264.2h0M1389.1 234.6h0M1391.3 264.8h0M1392.1 264.3h0M1394.2 236.5h0M1394.5 264.4h0M1395.7 262.7h0M1397.1 234.4h0M1397.0 264.7h0M1398.4 236.5h0M1398.9 263.3h0M1400.1 235.2h0M1400.8 265.0h0M1404.3 237.6h0M1404.1 266.1h0M1406.3 268.9h0M1408.0 234.4h0M1409.8 234.8h0M1409.6 273.0h0M1410.5 233.1h0M1410.6 273.4h0M1413.1 273.8h0M1414.2 234.7h0M1413.9 278.0h0M1415.4 233.5h0M1415.5 279.8h0M1419.2 234.3h0M1421.6 237.6h0M1420.9 270.9h0M1423.1 237.9h0M1423.8 241.6h0M1425.8 238.4h0M1426.0 263.9h0M1427.8 238.6h0M1427.5 260.1h0M1428.7 241.1h0M1429.0 263.0h0M1430.6 236.5h0M1430.2 265.2h0M1432.7 235.8h0M1432.6 266.5h0M1434.3 237.4h0M1434.3 267.2h0M1435.8 233.8h0M1436.1 267.4h0M1437.6 233.6h0M1438.0 264.7h0M1439.7 238.5h0M1440.0 267.0h0M1441.3 236.1h0M1442.8 235.2h0M1443.3 266.8h0M1445.0 240.4h0M1445.0 261.7h0M1446.1 237.7h0M1446.5 269.5h0M1448.2 238.3h0M1450.7 236.4h0M1451.0 266.2h0M1452.9 236.9h0M1452.7 268.3h0M1455.1 238.1h0M1455.4 270.4h0M1457.1 240.4h0M1458.2 235.5h0M1458.8 271.2h0M1460.5 235.2h0M1460.6 269.6h0M1462.3 268.1h0M121.7 232.9h0M134.7 227.7h0M142.7 239.7h0M151.9 287.4h0M153.3 288.4h0M154.9 287.7h0M156.2 245.0h0M158.8 244.9h0M163.7 246.2h0M182.9 239.8h0M184.6 299.8h0M193.4 235.6h0M204.5 261.4h0M214.7 260.6h0M215.8 259.7h0M217.3 220.0h0M241.1 211.4h0M241.0 259.0h0M250.4 248.9h0M253.9 243.3h0M275.8 253.4h0M284.4 253.7h0M300.2 277.0h0M308.5 237.6h0M312.2 276.6h0M313.2 230.4h0M313.3 229.7h0M320.0 216.9h0M319.9 263.8h0M322.0 261.4h0M328.6 259.0h0M327.0 258.4h0M336.5 258.7h0M336.7 258.2h0M347.9 240.0h0M359.3 240.5h0M357.6 239.5h0M371.8 246.8h0M372.4 246.8h0M376.1 208.6h0M403.6 272.2h0M404.9 272.2h0M406.0 271.2h0M407.1 228.4h0M415.7 282.0h0M441.6 223.1h0M442.0 222.4h0M445.6 217.7h0M445.9 217.3h0M444.6 249.9h0M446.0 249.2h0M448.9 216.5h0M451.7 215.2h0M452.2 242.2h0M469.5 243.2h0M487.7 200.2h0M499.8 246.2h0M502.7 213.9h0M504.5 247.0h0M506.1 247.5h0M513.7 216.0h0M525.2 228.6h0M551.0 215.1h0M550.5 214.6h0M559.5 210.2h0M563.0 211.1h0M578.0 252.7h0M598.5 273.3h0M598.2 272.4h0M612.1 229.0h0M614.5 268.9h0M635.3 228.5h0M642.9 236.6h0M643.5 236.3h0M644.8 235.1h0M648.5 232.7h0M658.9 197.7h0M670.6 190.0h0M694.1 187.4h0M694.9 184.5h0M708.8 224.0h0M730.6 220.4h0M744.3 196.5h0M743.7 196.0h0M756.7 137.6h0M758.6 139.0h0M776.7 168.2h0M776.0 167.1h0M781.5 152.8h0M811.1 222.9h0M810.8 222.3h0M816.8 166.8h0M831.2 227.9h0M836.2 228.6h0M837.2 179.0h0M848.9 190.8h0M869.1 229.7h0M876.4 228.7h0M884.3 228.7h0M888.1 185.9h0M893.8 189.9h0M900.0 192.3h0M899.1 192.2h0M903.3 246.9h0M913.7 232.6h0M931.0 235.2h0M931.1 234.8h0M932.7 200.2h0M937.3 204.4h0M938.6 239.6h0M940.7 204.8h0M943.0 204.0h0M991.5 182.3h0M993.1 241.0h0M994.2 243.5h0M1011.2 206.8h0M1022.1 202.7h0M1025.1 199.3h0M1025.6 250.5h0M1032.5 251.1h0M1033.1 251.1h0M1043.0 249.9h0M1043.2 248.7h0M1049.5 198.0h0M1049.9 250.8h0M1052.5 253.8h0M1052.4 253.4h0M1061.3 254.8h0M1061.3 254.1h0M1064.0 205.2h0M1063.1 253.2h0M1068.2 253.5h0M1072.9 255.8h0M1072.5 254.5h0M1074.7 195.4h0M1075.4 255.9h0M1075.4 255.4h0M1079.2 250.8h0M1079.4 250.7h0M1081.5 197.5h0M1082.7 196.1h0M1090.1 243.7h0M1110.0 243.7h0M1111.6 205.2h0M1111.0 205.0h0M1116.7 201.7h0M1123.5 252.9h0M1127.9 253.0h0M1131.9 208.8h0M1132.1 248.1h0M1140.3 241.3h0M1143.0 208.5h0M1151.8 215.4h0M1157.0 254.3h0M1172.3 207.5h0M1171.8 207.1h0M1188.6 253.2h0M1193.0 216.9h0M1192.0 214.9h0M1192.9 260.4h0M1195.3 265.5h0M1194.1 265.0h0M1198.4 261.8h0M1204.1 250.9h0M1203.8 249.5h0M1215.3 209.8h0M1214.6 207.8h0M1223.4 250.5h0M1223.8 248.7h0M1227.8 210.8h0M1233.1 254.3h0M1233.1 253.5h0M1237.7 217.6h0M1239.9 253.3h0M1242.3 219.1h0M1242.1 253.2h0M1242.7 252.3h0M1247.7 223.9h0M1250.2 222.7h0M1250.0 222.2h0M1254.9 258.2h0M1265.2 263.1h0M1264.5 261.1h0M1273.7 257.3h0M1276.6 256.2h0M1279.8 257.0h0M1279.4 256.2h0M1283.9 257.0h0M1284.5 256.2h0M1286.9 255.9h0M1288.1 255.0h0M1307.2 257.7h0M1308.0 257.1h0M1311.9 223.4h0M1324.5 222.9h0M1332.5 218.1h0M1335.1 214.8h0M1334.7 214.6h0M1336.2 261.3h0M1344.2 263.7h0M1344.6 262.8h0M1347.7 215.2h0M1347.8 214.8h0M1357.3 219.6h0M1364.2 257.4h0M1366.5 256.8h0M1369.7 258.5h0M1373.1 222.3h0M1376.9 226.7h0M1384.4 229.7h0M1384.3 262.6h0M1384.7 226.5h0M1385.4 262.8h0M1387.3 228.2h0M1386.9 226.6h0M1389.2 262.5h0M1390.3 230.9h0M1391.4 229.3h0M1396.0 230.6h0M1401.4 228.0h0M1401.5 264.4h0M1406.0 224.5h0M1407.1 268.5h0M1416.5 227.1h0M1416.8 226.0h0M1416.8 276.4h0M1418.6 273.4h0M1422.7 267.5h0M1423.6 267.2h0M1423.5 265.6h0M1441.4 266.6h0M1441.1 265.7h0M1448.8 267.2h0M1454.7 230.5h0M1453.5 269.1h0M1457.8 269.3h0M1462.5 226.1h0M1003.5 186.7h0M1003.4 182.4h0M1003.4 177.0h0M1001.2 196.6h0M1001.3 193.1h0M1000.5 190.0h0M988.4 61.0h0M988.4 90.4h0M984.4 113.0h0M984.4 115.0h0M987.4 117.7h0M988.4 123.5h0M987.4 127.4h0M984.4 132.4h0M987.4 151.3h0M979.0 166.0h0M988.0 168.4h0M899.4 272.1h0M899.4 282.6h0M899.4 294.5h0M959.0 316.2h0M963.4 314.3h0M958.2 319.7h0M963.4 320.2h0M958.5 327.5h0M963.4 353.0h0M963.4 356.0h0M956.6 288.9h0M962.3 288.9h0M951.2 277.9h0M959.8 280.5h0M1080.5 148.5h0M1080.5 167.0h0M1080.5 180.5h0M1079.5 187.4h0M1074.4 182.6h0M1055.5 181.0h0M1055.5 189.5h0M1055.5 197.5h0M1063.4 188.5h0M1096.5 177.5h0M1096.5 192.2h0M1101.5 195.0h0M1101.5 197.0h0M1087.5 200.0h0M1034.0 202.0h0M1121.5 191.3h0M1144.4 197.3h0M1144.4 200.2h0M1043.4 276.5h0M1075.4 276.5h0M1010.5 270.0h0M1194.5 286.3h0M1246.4 172.4h0M1246.4 180.4h0M1246.4 208.6h0M1246.4 216.4h0M1273.4 286.4h0M1273.4 324.3h0M1288.4 271.4h0M1288.4 285.0h0M1288.4 306.5h0M1415.5 201.7h0M1415.5 207.5h0M1400.5 209.8h0M1417.5 295.4h0M1417.5 302.4h0M1354.6 213.0h0M1194.4 277.0h0M1197.6 354.3h0M1197.6 378.5h0M1197.6 381.0h0M1273.4 395.3h0M1273.4 430.3h0M1273.4 492.0h0M1273.4 496.3h0M145.2 243.3h0M165.4 247.0h0M240.1 286.7h0M240.1 276.0h0M329.1 207.4h0M274.5 261.2h0M322.4 261.2h0M345.3 262.0h0M364.2 265.9h0M336.5 268.0h0M396.6 284.6h0M438.3 265.3h0M469.9 258.4h0M475.1 260.7h0M491.5 259.2h0M512.5 270.4h0M567.4 205.5h0M617.3 222.2h0M606.4 283.5h0M621.4 274.6h0M636.3 261.9h0M662.2 163.9h0M662.2 168.3h0M662.2 174.0h0M662.2 180.0h0M662.2 186.0h0M662.2 193.0h0M660.2 239.4h0M685.4 247.6h0M698.1 184.8h0M698.1 188.0h0M729.5 163.1h0M740.3 149.0h0M740.3 153.4h0M760.2 140.0h0M769.1 149.0h0M757.9 226.7h0M765.4 225.2h0M828.3 170.4h0M869.5 177.9h0M917.3 188.3h0M788.0 224.2h0M788.0 228.5h0M907.6 248.9h0M922.6 241.4h0M922.6 245.2h0M979.4 165.9h0M973.4 191.3h0M1002.3 176.4h0M1002.3 180.2h0M1002.3 186.0h0M1002.3 192.0h0M1027.4 263.1h0M1031.9 269.8h0M1061.5 268.3h0M1065.3 268.1h0M1071.5 264.6h0M1082.4 270.6h0M1113.4 255.6h0M1149.3 265.4h0M1154.5 269.1h0M1161.3 269.8h0M1185.2 263.1h0M1194.3 278.1h0M1199.4 269.8h0M1211.4 207.8h0M1238.1 274.0h0M1252.5 269.8h0M1276.3 263.9h0M1304.4 265.6h0M1366.4 266.4h0M1341.3 275.8h0M1358.4 271.5h0M1385.9 280.9h0M1452.2 279.5h0M1221.1 208.6h0M1284.8 219.7h0M1292.5 223.1h0M1332.4 218.0h0M1369.8 215.4h0M1373.2 219.7h0" stroke="#1f77b4" stroke-width="5.6" stroke-linecap="round" fill="none"/><path d="M116.0 260.2 L117.5 258.0 L119.0 254.1 L120.5 253.6 L122.0 254.3 L123.5 256.1 L125.0 253.4 L126.0 251.9 L128.0 254.5 L129.5 258.5 L131.0 255.4 L133.2 249.4 L135.5 254.2 L137.0 257.0 L138.4 257.0 L140.0 258.7 L141.5 262.1 L143.0 267.1 L144.5 267.3 L146.0 267.3 L147.5 267.2 L149.0 266.5 L150.4 265.6 L152.0 265.4 L153.5 266.6 L155.0 268.3 L156.4 268.8 L158.0 270.4 L159.5 273.3 L160.9 275.4 L162.5 275.1 L164.0 271.8 L165.5 271.2 L166.9 273.1 L168.5 279.5 L170.0 283.0 L171.5 284.3 L173.0 288.3 L174.3 292.7 L176.0 286.0 L177.5 277.8 L178.8 272.6 L180.5 279.5 L181.8 284.5 L183.5 272.5 L184.8 261.0 L186.5 256.3 L188.0 254.0 L189.3 252.2 L191.0 255.5 L192.5 259.0 L194.0 261.5 L195.3 262.8 L197.0 259.2 L198.5 256.9 L200.0 255.6 L201.5 253.0 L203.0 249.8 L204.5 248.1 L205.7 246.9 L207.5 245.4 L209.0 240.2 L210.5 236.7 L211.7 236.6 L213.5 242.2 L215.0 245.2 L216.5 245.5 L217.7 247.4 L219.5 244.2 L221.0 241.4 L222.2 237.9 L224.0 238.4 L225.5 241.1 L227.0 244.9 L228.5 246.2 L229.7 246.5 L231.5 242.4 L233.0 239.4 L234.5 237.2 L235.7 235.6 L237.5 234.1 L239.0 233.1 L240.5 229.9 L242.4 226.4 L243.5 230.9 L245.0 238.7 L246.1 243.4 L248.0 235.9 L249.5 230.8 L251.0 228.2 L252.5 223.5 L253.6 218.3 L255.5 214.7 L257.0 215.4 L258.1 217.1 L260.0 224.5 L261.5 227.2 L263.0 230.5 L264.1 234.2 L266.0 234.5 L267.5 232.8 L269.0 230.6 L270.5 230.9 L271.6 231.4 L273.5 233.5 L275.0 233.7 L276.5 233.3 L278.0 233.5 L279.0 233.9 L281.0 236.4 L282.5 239.7 L284.0 243.5 L285.5 245.3 L287.0 245.8 L288.5 247.8 L290.0 251.0 L291.0 252.6 L293.0 249.1 L294.5 247.0 L296.0 247.8 L297.0 247.2 L299.0 252.5 L300.5 253.1 L302.0 255.9 L303.5 262.2 L305.0 267.2 L306.0 269.1 L308.0 262.0 L310.4 255.6 L312.5 251.0 L314.0 246.1 L315.5 242.6 L317.0 240.9 L319.4 236.2 L321.5 235.4 L323.0 234.2 L324.5 232.2 L326.9 231.5 L329.0 233.8 L330.5 234.6 L332.0 233.2 L333.5 233.0 L335.4 234.6 L336.5 233.8 L338.0 231.0 L339.5 227.8 L341.0 228.3 L342.5 229.6 L344.0 227.3 L345.0 225.0 L347.0 220.0 L348.5 219.0 L350.0 219.1 L351.5 216.8 L353.0 213.9 L354.0 212.7 L356.0 214.7 L358.4 214.2 L360.5 216.8 L362.0 219.9 L363.5 223.6 L365.0 226.6 L366.5 229.4 L368.2 231.9 L369.5 228.7 L371.0 224.2 L373.4 221.7 L375.5 226.7 L377.0 228.3 L378.5 229.7 L380.0 233.5 L381.5 237.2 L383.0 238.4 L385.4 241.8 L387.5 242.2 L389.0 242.1 L391.3 236.3 L393.5 240.1 L395.0 245.1 L396.5 248.6 L398.8 253.0 L401.0 254.1 L402.5 254.4 L404.0 253.0 L405.5 252.2 L407.8 253.0 L410.0 258.6 L411.5 263.2 L413.0 267.6 L414.5 270.0 L416.0 271.7 L418.3 278.2 L420.5 270.7 L422.0 263.6 L423.5 255.8 L425.0 250.4 L427.2 241.8 L429.5 238.5 L431.0 237.7 L433.2 240.4 L435.5 243.2 L437.0 242.2 L438.5 243.1 L440.0 245.8 L442.2 248.0 L444.5 239.7 L446.0 235.7 L447.5 230.6 L448.9 224.9 L450.5 225.2 L452.0 225.7 L453.5 226.5 L455.7 228.4 L458.0 227.4 L459.5 225.2 L461.0 220.7 L463.1 218.0 L465.5 222.0 L467.0 222.8 L468.5 222.3 L470.6 225.0 L473.0 224.1 L474.5 220.2 L476.0 217.1 L477.5 218.2 L479.0 219.1 L480.3 217.5 L482.0 218.6 L483.5 219.3 L485.0 221.6 L486.5 223.7 L488.0 225.0 L490.0 227.7 L491.0 227.2 L492.5 226.5 L494.0 224.4 L496.0 221.8 L497.0 223.7 L498.5 226.3 L500.5 231.0 L501.5 230.8 L503.0 231.9 L504.5 232.2 L506.0 229.3 L507.5 226.4 L509.0 226.8 L511.0 227.4 L512.0 230.5 L513.5 233.6 L515.0 237.8 L516.5 244.5 L518.0 249.6 L519.5 251.7 L521.5 256.6 L522.5 254.5 L524.0 253.5 L525.5 251.8 L527.0 247.3 L528.5 243.2 L530.4 239.6 L531.5 240.0 L533.0 239.9 L534.5 240.2 L536.0 241.7 L537.5 242.7 L539.4 242.9 L540.5 241.7 L542.0 240.1 L543.5 237.7 L545.0 234.5 L546.5 233.1 L548.0 233.6 L549.9 231.8 L551.0 231.5 L552.5 228.7 L554.0 228.4 L556.0 230.0 L557.0 229.7 L558.5 227.1 L560.0 225.4 L562.0 225.8 L563.0 226.7 L564.5 225.9 L566.0 222.7 L567.5 222.4 L569.0 224.5 L570.2 225.0 L572.0 228.4 L573.5 229.9 L575.4 232.7 L576.5 233.8 L578.0 234.5 L579.5 235.8 L581.0 238.2 L582.9 240.4 L584.0 243.1 L585.5 246.7 L587.4 251.0 L588.5 245.1 L590.4 233.5 L591.5 240.6 L592.6 251.7 L594.5 242.3 L595.6 233.6 L597.5 233.2 L599.0 233.4 L600.1 235.5 L602.0 250.0 L603.1 256.6 L605.0 247.3 L606.9 242.0 L608.0 243.8 L609.5 244.3 L611.0 241.9 L612.8 242.4 L614.0 241.5 L615.5 241.9 L617.0 240.9 L618.8 238.9 L620.0 242.8 L621.8 247.6 L623.0 245.9 L624.5 243.8 L626.0 243.2 L627.8 241.8 L629.0 241.3 L630.5 240.9 L632.0 241.6 L633.5 241.2 L635.0 238.7 L636.8 237.7 L638.0 236.6 L639.5 238.5 L641.0 237.8 L642.7 234.1 L644.0 229.6 L645.5 226.7 L647.0 224.0 L648.0 220.9 L650.0 220.4 L651.7 223.5 L653.0 222.8 L654.5 221.3 L656.0 216.4 L657.7 212.5 L659.0 210.6 L660.5 210.3 L662.2 208.9 L663.5 210.4 L665.0 212.2 L666.5 213.2 L668.2 213.8 L669.5 210.3 L671.2 207.9 L672.5 207.7 L674.0 206.8 L675.5 206.3 L677.0 207.1 L678.6 206.6 L680.0 209.3 L681.5 209.9 L683.0 213.3 L684.5 219.8 L686.1 223.9 L687.5 221.6 L689.0 217.5 L690.5 215.8 L692.0 214.9 L693.6 211.8 L695.0 208.7 L696.5 207.2 L698.1 207.7 L699.5 210.2 L701.0 210.7 L702.5 209.9 L704.0 210.9 L705.6 212.9 L707.0 213.6 L708.5 214.9 L710.0 216.3 L711.6 216.6 L713.0 215.9 L714.5 214.6 L716.0 214.9 L717.5 215.2 L719.0 214.5 L720.5 212.2 L722.0 211.7 L723.5 212.1 L725.0 209.3 L726.5 204.8 L728.0 203.2 L729.5 202.7 L731.0 204.0 L732.5 202.1 L734.0 199.0 L735.5 198.1 L737.0 195.3 L738.5 191.6 L740.0 185.8 L741.5 181.4 L743.0 179.5 L744.5 176.6 L746.0 179.5 L747.5 180.0 L748.9 181.5 L750.5 177.0 L752.0 173.1 L753.5 170.0 L754.9 167.2 L756.5 181.0 L758.7 196.7 L760.9 175.7 L762.5 181.1 L764.0 184.8 L765.4 188.7 L767.0 188.8 L768.5 191.4 L769.9 190.3 L771.5 193.3 L773.0 194.7 L775.4 204.4 L777.5 196.6 L779.7 185.0 L782.0 189.4 L783.5 191.8 L785.0 192.6 L786.5 189.2 L788.0 188.3 L790.2 187.4 L792.5 194.6 L794.0 185.8 L795.1 179.3 L797.0 189.2 L798.4 198.4 L800.0 196.4 L801.5 195.1 L803.7 189.8 L805.9 201.6 L807.5 199.6 L809.0 196.4 L810.5 192.2 L811.9 190.7 L813.5 192.5 L815.0 194.6 L816.5 192.1 L817.9 190.5 L819.5 192.9 L821.0 198.8 L822.4 202.3 L824.0 200.4 L825.5 198.4 L827.6 197.7 L829.8 206.4 L831.5 202.6 L833.0 200.7 L834.5 200.5 L835.8 199.2 L838.1 226.1 L840.5 219.3 L842.0 214.0 L843.3 210.8 L845.0 212.8 L846.5 215.7 L848.0 217.0 L849.5 216.8 L851.0 218.2 L852.5 220.6 L853.8 221.5 L855.5 216.0 L857.0 211.5 L858.5 210.9 L860.5 207.5 L861.5 208.4 L863.0 206.8 L864.5 206.7 L866.0 209.7 L867.2 211.1 L869.0 209.8 L870.5 208.1 L872.0 208.3 L873.5 208.1 L874.7 206.7 L876.5 204.3 L878.0 202.7 L879.5 202.8 L881.0 202.7 L882.2 202.1 L884.0 214.8 L885.2 221.6 L887.0 211.8 L888.9 202.6 L890.0 207.9 L891.5 217.5 L892.7 223.2 L894.5 218.0 L895.7 215.0 L897.5 225.0 L899.4 233.6 L900.5 230.3 L902.0 225.1 L903.5 223.8 L905.0 223.5 L906.1 220.8 L908.0 222.2 L909.5 222.6 L910.6 225.2 L912.5 222.7 L914.0 219.4 L915.8 215.7 L917.0 218.5 L918.5 223.2 L920.0 225.8 L921.1 227.2 L923.0 221.3 L924.8 217.9 L926.0 219.3 L927.5 221.6 L929.0 224.7 L930.5 227.1 L932.0 227.3 L933.5 227.9 L934.5 229.4 L936.5 229.4 L938.0 229.4 L939.5 227.1 L941.0 225.7 L942.0 225.7 L944.0 228.1 L945.5 226.7 L947.0 225.0 L948.0 226.1 L950.0 225.7 L951.5 225.7 L953.0 221.7 L954.0 219.5 L956.0 223.8 L957.5 228.6 L959.0 232.2 L960.0 234.5 L962.0 233.7 L963.5 234.6 L965.0 234.4 L966.5 232.8 L968.0 231.7 L969.0 231.4 L971.0 227.4 L972.5 225.0 L974.0 224.0 L975.5 222.7 L977.9 216.6 L980.0 213.3 L981.5 213.6 L983.0 213.7 L984.5 211.3 L986.9 209.1 L989.9 229.5 L992.0 227.8 L993.5 227.5 L995.0 231.0 L996.0 232.3 L998.0 226.7 L999.5 219.8 L1001.2 214.3 L1002.5 216.8 L1004.2 219.6 L1005.5 232.3 L1006.5 243.4 L1008.5 234.3 L1009.5 229.1 L1011.5 228.4 L1013.0 227.3 L1014.5 226.2 L1016.2 225.2 L1017.5 226.2 L1019.9 232.2 L1022.0 232.2 L1023.5 228.6 L1025.0 226.5 L1025.9 226.6 L1028.0 231.2 L1029.5 232.8 L1031.0 233.5 L1032.5 236.8 L1033.4 238.8 L1035.5 239.0 L1037.0 234.8 L1037.9 233.8 L1040.0 231.0 L1041.5 232.0 L1043.0 230.2 L1043.9 228.3 L1046.0 226.8 L1047.5 226.5 L1049.1 225.7 L1050.5 225.7 L1052.0 226.4 L1054.3 228.9 L1056.5 233.1 L1058.8 236.4 L1061.0 233.1 L1062.5 230.0 L1064.8 229.5 L1067.0 232.3 L1068.5 230.5 L1070.8 229.6 L1073.0 230.1 L1074.5 229.2 L1076.0 226.8 L1078.3 227.2 L1080.5 234.6 L1082.7 235.8 L1085.0 229.5 L1086.5 228.9 L1088.7 224.6 L1091.0 225.9 L1093.2 227.3 L1095.5 226.9 L1097.0 226.9 L1098.5 228.1 L1100.7 228.8 L1103.0 228.8 L1104.5 229.1 L1106.0 227.6 L1107.5 225.4 L1109.7 226.0 L1112.0 229.7 L1113.5 229.5 L1115.0 227.6 L1116.5 228.3 L1118.6 230.6 L1119.5 231.3 L1121.0 230.7 L1122.5 230.9 L1124.0 234.4 L1125.5 237.1 L1127.6 236.3 L1128.5 234.6 L1130.0 232.2 L1131.5 232.7 L1133.6 232.0 L1134.5 231.4 L1136.0 230.5 L1137.5 229.8 L1139.0 228.5 L1140.5 226.6 L1142.6 225.4 L1143.5 226.6 L1145.0 228.7 L1146.5 230.4 L1148.6 233.6 L1149.5 236.2 L1151.0 239.4 L1152.5 239.9 L1154.5 244.3 L1155.5 242.8 L1157.0 242.9 L1158.5 240.1 L1160.5 234.3 L1161.5 232.5 L1163.0 231.8 L1164.5 230.5 L1166.0 226.7 L1167.2 224.9 L1169.0 227.2 L1170.5 231.7 L1172.5 232.3 L1173.5 231.6 L1175.0 230.2 L1176.5 230.6 L1178.0 231.6 L1179.5 231.9 L1181.0 232.0 L1183.0 232.1 L1184.0 233.3 L1185.5 234.3 L1187.0 235.5 L1188.5 237.7 L1190.0 239.6 L1191.5 241.0 L1193.4 243.8 L1194.5 243.4 L1196.0 242.7 L1197.5 238.7 L1199.0 234.4 L1200.5 233.9 L1202.4 233.8 L1203.5 234.1 L1205.0 231.2 L1206.9 229.1 L1208.0 230.1 L1209.5 231.8 L1211.0 231.0 L1212.5 229.6 L1214.0 231.3 L1216.0 234.0 L1217.0 235.5 L1218.5 235.6 L1220.0 234.8 L1221.5 235.9 L1222.8 237.2 L1224.5 235.3 L1226.2 234.2 L1227.5 234.4 L1229.0 234.3 L1230.5 233.0 L1232.0 232.0 L1233.5 232.2 L1235.0 231.9 L1236.4 231.2 L1238.1 238.0 L1239.5 238.4 L1241.0 239.6 L1242.5 237.3 L1244.0 233.4 L1245.5 233.0 L1246.6 233.8 L1248.5 237.7 L1250.0 238.1 L1251.5 238.1 L1253.4 241.1 L1254.5 242.7 L1256.0 243.1 L1257.5 241.6 L1259.0 242.9 L1260.2 245.1 L1262.0 245.0 L1263.5 242.7 L1265.3 239.1 L1266.5 237.2 L1268.0 234.9 L1269.5 232.9 L1271.2 231.5 L1272.5 239.3 L1273.8 245.7 L1275.5 244.8 L1277.0 243.6 L1278.5 243.7 L1280.0 243.5 L1281.5 241.8 L1283.0 241.1 L1284.0 241.5 L1286.0 246.2 L1287.5 246.8 L1289.1 245.5 L1290.5 242.3 L1292.0 241.9 L1293.5 242.5 L1295.0 239.9 L1295.9 238.3 L1298.0 237.2 L1299.5 238.3 L1301.8 235.8 L1304.0 236.0 L1305.5 238.7 L1307.0 242.1 L1308.5 243.4 L1309.5 243.9 L1311.5 246.4 L1313.0 247.8 L1314.5 249.1 L1316.0 251.8 L1318.0 255.7 L1319.0 255.5 L1320.5 253.9 L1322.0 251.9 L1323.5 251.4 L1324.8 250.6 L1326.5 245.8 L1328.0 240.5 L1329.9 238.3 L1331.0 241.5 L1332.5 245.0 L1334.0 244.0 L1335.0 244.5 L1337.0 245.3 L1338.5 248.6 L1340.0 249.7 L1341.8 250.0 L1343.0 247.8 L1344.5 246.6 L1346.0 244.5 L1347.5 239.8 L1349.0 236.0 L1350.3 234.4 L1352.0 238.6 L1353.5 242.4 L1355.0 245.4 L1357.1 248.9 L1358.0 247.9 L1359.5 245.2 L1361.0 243.6 L1362.5 243.8 L1363.9 243.0 L1365.5 243.0 L1367.0 242.1 L1368.5 242.8 L1370.0 244.0 L1371.5 242.8 L1373.0 241.3 L1374.1 241.6 L1376.0 244.7 L1377.5 248.1 L1379.0 247.9 L1380.5 246.0 L1382.0 247.1 L1383.5 250.2 L1385.0 251.6 L1386.0 252.0 L1388.0 250.0 L1389.5 250.6 L1391.0 250.4 L1392.8 247.8 L1394.0 245.9 L1395.5 244.1 L1397.0 243.9 L1398.5 243.6 L1399.6 242.8 L1401.5 247.5 L1403.0 249.8 L1404.7 251.6 L1406.0 250.7 L1407.5 251.2 L1409.0 252.6 L1410.5 252.2 L1412.0 250.8 L1413.5 251.1 L1414.8 251.6 L1416.5 250.0 L1418.0 245.2 L1419.9 243.3 L1421.0 248.9 L1422.5 257.2 L1424.0 258.1 L1425.5 256.0 L1427.0 255.1 L1428.5 256.7 L1430.1 257.3 L1431.5 255.3 L1433.0 253.1 L1435.2 252.4 L1437.5 253.7 L1439.0 252.7 L1440.5 252.4 L1442.0 253.2 L1443.7 254.3 L1445.0 255.1 L1446.5 257.1 L1448.0 257.8 L1449.5 256.7 L1450.5 256.6 L1452.5 253.9 L1454.0 254.2 L1455.6 252.2 L1457.0 252.0 L1458.5 252.5 L1460.0 255.1 L1461.5 255.5 L1462.4 254.8" stroke="#ff7f0e" stroke-width="2.2" fill="none" stroke-linejoin="round"/></g>
<rect x="116.5" y="38.5" width="1346.0" height="480.0" fill="none" stroke="#000" stroke-width="1.1"/>
<path d="M116.5 518.5v5 M284.5 518.5v5 M452.5 518.5v5 M620.5 518.5v5 M789.5 518.5v5 M957.5 518.5v5 M1125.5 518.5v5 M1294.5 518.5v5 M116.5 132.5h-5 M116.5 231.5h-5 M116.5 331.5h-5 M116.5 430.5h-5" stroke="#000" stroke-width="1.1" fill="none"/>
<rect x="116.5" y="575.5" width="526.5" height="479.0" fill="#e6e6e6"/>
<path d="M116.5 575.5V1054.5 M284.5 575.5V1054.5 M452.5 575.5V1054.5 M620.5 575.5V1054.5 M789.5 575.5V1054.5 M957.5 575.5V1054.5 M1125.5 575.5V1054.5 M1294.5 575.5V1054.5 M116.5 619.5H1462.5 M116.5 702.5H1462.5 M116.5 785.5H1462.5 M116.5 867.5H1462.5 M116.5 950.5H1462.5 M116.5 1033.5H1462.5" stroke="#b0b0b0" stroke-width="1.1" stroke-dasharray="1.1 1.83" fill="none"/>
<g clip-path="url(#cb)"><path d="M116.0 994.0 L127.0 992.0 L138.0 988.0 L148.0 982.0 L150.0 973.0 L160.0 972.0 L165.0 980.0 L175.0 983.0 L182.0 978.0 L190.0 966.0 L196.0 957.0 L200.0 947.0 L215.0 947.0 L230.0 937.0 L293.0 934.0 L300.0 917.0 L322.0 920.0 L326.0 952.0 L336.0 952.0 L340.0 900.0 L358.0 895.0 L362.0 914.0 L383.0 916.0 L395.0 930.0 L405.0 942.0 L414.0 902.0 L420.0 870.0 L425.0 854.0 L476.0 852.0 L480.0 890.0 L488.0 890.0 L492.0 837.0 L550.0 832.0 L554.0 947.0 L585.0 952.0 L600.0 967.0 L628.0 974.0 L633.0 927.0 L640.0 897.0 L654.0 907.0 L664.0 915.0 L668.0 964.0 L674.0 980.0 L684.0 990.0 L713.0 990.0 L724.0 984.0 L745.0 994.0 L750.0 967.0 L759.0 972.0 L770.0 986.0 L790.0 987.0 L811.0 997.0 L840.0 1003.0 L848.0 1006.0 L860.0 1004.0 L868.0 1015.0 L886.0 1017.5 L898.0 1019.0 L912.0 1020.7 L921.0 1027.0 L936.0 1023.0 L960.0 1027.0 L993.0 1027.0 L1026.0 1029.0 L1070.0 1029.0 L1100.0 1030.0 L1200.0 1030.0 L1290.0 1028.0 L1302.0 1027.5 L1318.0 1026.5 L1325.0 1019.5 L1332.0 1026.0 L1338.0 1025.5 L1355.0 1023.4 L1368.0 1019.8 L1383.0 1015.0 L1398.0 1018.6 L1405.0 1013.8 L1410.0 1009.0 L1414.0 1005.0 L1419.0 1005.0 L1425.0 1009.0 L1434.0 1004.0 L1440.0 1001.0 L1449.0 1000.0 L1456.0 1006.0 L1460.0 1000.0 L1462.5 998.0 L1462.5 1024.8 L1449.0 1026.0 L1425.0 1027.2 L1410.0 1026.0 L1405.0 1028.4 L1398.0 1029.0 L1383.0 1029.0 L1368.0 1030.2 L1355.0 1030.8 L1338.0 1030.8 L1325.0 1030.2 L1302.0 1031.4 L1290.0 1032.0 L1100.0 1033.2 L1070.0 1032.9 L993.0 1032.9 L960.0 1032.5 L921.0 1031.7 L912.0 1030.9 L886.0 1030.1 L860.0 1027.7 L850.0 1028.5 L840.0 1023.5 L832.0 1022.2 L824.0 1020.9 L815.0 1019.5 L773.0 1017.3 L750.0 1016.0 L740.0 1015.5 L700.0 1015.0 L672.0 1014.6 L661.0 1014.5 L654.0 1009.5 L647.0 1003.5 L641.0 1010.5 L550.0 1010.5 L541.0 993.5 L425.0 993.5 L419.0 1000.5 L345.0 1000.5 L338.0 1003.5 L290.0 1003.5 L282.0 1000.5 L200.0 1000.5 L190.0 1009.5 L116.0 1011.5Z" fill="#1f77b4"/><path d="M116.5 994.0V995.9M116.5 1010.0V1014.8M118.6 992.8V995.5M118.6 1009.9V1016.6M121.8 991.4V994.9M121.8 1009.8V1013.7M125.2 986.8V994.3M125.2 1009.8V1016.1M127.0 988.7V994.0M127.0 1009.7V1010.9M129.8 989.9V993.0M129.8 1009.6V1011.7M132.6 990.0V992.0M132.6 1009.6V1015.4M135.6 977.1V990.9M135.6 1009.5V1013.5M137.4 984.3V990.2M137.4 1009.4V1014.9M139.9 985.4V988.9M139.9 1009.4V1015.0M141.9 980.9V987.7M141.9 1009.3V1016.2M144.8 982.2V985.9M144.8 1009.2V1015.9M147.0 973.5V984.6M147.0 1009.2V1011.3M150.1 973.7V975.0M150.1 1009.1V1013.2M152.1 960.7V974.8M152.1 1009.0V1014.8M154.9 970.1V974.5M154.9 1008.9V1012.5M157.2 969.7V974.3M157.2 1008.9V1013.7M160.0 970.2V974.0M160.0 1008.8V1012.4M162.6 976.9V978.2M162.6 1008.7V1012.6M165.3 972.8V982.1M165.3 1008.7V1011.1M167.4 977.6V982.7M167.4 1008.6V1015.1M170.7 982.5V983.7M170.7 1008.5V1013.2M173.4 982.8V984.5M173.4 1008.4V1015.1M175.5 980.0V984.6M175.5 1008.4V1012.6M178.1 981.4V982.8M178.1 1008.3V1010.0M179.9 971.4V981.5M179.9 1008.3V1011.2M181.7 970.8V980.2M181.7 1008.2V1014.2M184.3 971.6V976.5M184.3 1008.2V1013.1M186.0 960.9V974.0M186.0 1008.1V1010.7M188.5 964.7V970.3M188.5 1008.0V1013.7M191.5 956.5V965.7M191.5 1006.6V1008.3M193.3 958.7V963.1M193.3 1005.1V1006.5M196.0 948.7V959.1M196.0 1002.6V1008.1M199.2 944.7V951.0M199.2 999.7V1004.1M202.4 941.3V949.0M202.4 999.0V1002.6M205.5 930.1V949.0M205.5 999.0V1003.2M208.8 944.7V949.0M208.8 999.0V1002.7M211.9 944.8V949.0M211.9 999.0V1003.3M214.1 943.1V949.0M214.1 999.0V1003.8M215.9 943.8V948.4M215.9 999.0V1003.0M218.2 933.5V946.9M218.2 999.0V1002.7M221.3 930.6V944.8M221.3 999.0V1003.1M223.0 934.1V943.7M223.0 999.0V1003.6M225.9 921.7V941.7M225.9 999.0V1006.2M228.1 933.5V940.3M228.1 999.0V1006.8M230.4 936.2V939.0M230.4 999.0V1007.0M233.3 917.3V938.8M233.3 999.0V1001.4M236.4 917.7V938.7M236.4 999.0V1003.3M238.6 926.7V938.6M238.6 999.0V1003.1M241.0 934.7V938.5M241.0 999.0V1007.7M242.6 924.8V938.4M242.6 999.0V1003.4M245.9 934.5V938.2M245.9 999.0V1004.2M248.3 927.6V938.1M248.3 999.0V1004.3M250.9 933.4V938.0M250.9 999.0V1005.7M253.8 916.1V937.9M253.8 999.0V1008.1M255.4 932.5V937.8M255.4 999.0V1004.8M258.5 920.6V937.6M258.5 999.0V1001.4M261.3 934.8V937.5M261.3 999.0V1002.2M264.1 936.1V937.4M264.1 999.0V1005.0M265.9 923.2V937.3M265.9 999.0V1001.8M267.8 929.4V937.2M267.8 999.0V1003.4M270.4 926.1V937.1M270.4 999.0V1005.1M273.6 915.5V936.9M273.6 999.0V1004.6M276.6 935.6V936.8M276.6 999.0V1003.9M278.7 919.3V936.7M278.7 999.0V1003.8M280.6 903.0V936.6M280.6 999.0V1006.0M283.6 935.0V936.4M283.6 999.6V1008.8M286.6 924.9V936.3M286.6 1000.7V1009.5M288.6 929.3V936.2M288.6 1001.5V1003.5M291.8 923.3V936.1M291.8 1002.0V1007.8M294.3 920.1V932.7M294.3 1002.0V1008.8M297.6 920.3V924.9M297.6 1002.0V1006.4M300.3 911.1V919.0M300.3 1002.0V1005.9M303.1 915.4V919.4M303.1 1002.0V1008.2M306.0 910.4V919.8M306.0 1002.0V1007.3M308.7 914.3V920.2M308.7 1002.0V1005.6M311.7 916.3V920.6M311.7 1002.0V1008.0M315.0 910.7V921.0M315.0 1002.0V1003.2M316.9 916.9V921.3M316.9 1002.0V1007.6M319.7 885.9V921.7M319.7 1002.0V1008.3M321.6 913.7V922.0M321.6 1002.0V1005.4M323.5 924.8V934.0M323.5 1002.0V1008.1M326.2 948.9V954.0M326.2 1002.0V1008.1M328.6 951.7V954.0M328.6 1002.0V1005.3M332.0 949.0V954.0M332.0 1002.0V1008.6M334.3 944.7V954.0M334.3 1002.0V1005.2M337.4 934.5V935.9M337.4 1002.0V1007.0M340.4 898.4V901.9M340.4 1001.0V1004.3M342.2 887.4V901.4M342.2 1000.2V1008.3M345.5 887.1V900.5M345.5 999.0V1003.5M347.5 883.1V899.9M347.5 999.0V1005.6M350.2 888.9V899.2M350.2 999.0V1002.6M353.4 893.0V898.3M353.4 999.0V1003.9M356.8 893.5V897.3M356.8 999.0V1007.2M359.9 904.7V906.1M359.9 999.0V1002.3M363.0 913.0V916.1M363.0 999.0V1001.0M364.9 903.3V916.3M364.9 999.0V1001.0M367.2 915.2V916.5M367.2 999.0V1004.1M370.0 909.0V916.8M370.0 999.0V1002.8M372.3 911.3V917.0M372.3 999.0V1006.8M374.4 907.1V917.2M374.4 999.0V1000.8M377.7 905.2V917.5M377.7 999.0V1007.2M379.7 912.8V917.7M379.7 999.0V1004.6M382.3 908.0V917.9M382.3 999.0V1006.2M384.3 916.0V919.5M384.3 999.0V1001.1M386.4 917.2V921.9M386.4 999.0V1003.9M389.5 920.1V925.6M389.5 999.0V1002.9M391.9 915.5V928.3M391.9 999.0V1003.9M394.9 927.7V931.9M394.9 999.0V1004.1M397.8 925.0V935.3M397.8 999.0V1002.5M400.1 933.7V938.1M400.1 999.0V1001.2M402.8 927.0V941.3M402.8 999.0V1003.2M405.8 925.1V940.5M405.8 999.0V1002.4M408.6 926.0V927.8M408.6 999.0V1003.4M410.3 905.2V920.2M410.3 999.0V1002.8M413.7 886.1V905.2M413.7 999.0V1004.5M417.0 863.4V887.7M417.0 999.0V1002.4M419.9 869.0V872.8M419.9 998.0V1003.1M422.0 828.5V865.5M422.0 995.5V1000.4M425.4 849.6V856.0M425.4 992.0V997.6M427.9 829.2V855.9M427.9 992.0V995.3M430.8 846.5V855.8M430.8 992.0V999.8M434.1 850.9V855.6M434.1 992.0V997.0M436.7 843.2V855.5M436.7 992.0V1001.8M439.2 851.7V855.4M439.2 992.0V1000.5M441.0 849.5V855.4M441.0 992.0V996.0M442.9 838.9V855.3M442.9 992.0V997.4M445.5 845.8V855.2M445.5 992.0V999.1M448.8 851.0V855.1M448.8 992.0V996.0M451.9 850.5V854.9M451.9 992.0V1002.5M454.7 818.8V854.8M454.7 992.0V996.6M456.4 841.6V854.8M456.4 992.0V994.1M458.8 849.7V854.7M458.8 992.0V997.3M461.9 822.8V854.6M461.9 992.0V997.6M464.6 847.8V854.4M464.6 992.0V996.0M467.7 846.2V854.3M467.7 992.0V996.5M469.3 850.5V854.3M469.3 992.0V997.9M471.1 838.5V854.2M471.1 992.0V998.8M473.4 851.2V854.1M473.4 992.0V998.4M476.4 855.6V857.9M476.4 992.0V995.5M479.2 876.1V884.8M479.2 992.0V998.1M481.2 886.4V892.0M481.2 992.0V1001.6M483.4 890.5V892.0M483.4 992.0V998.4M486.4 890.4V892.0M486.4 992.0V996.1M488.3 866.2V888.2M488.3 992.0V997.6M490.9 833.2V853.7M490.9 992.0V995.7M494.3 823.7V838.8M494.3 992.0V999.7M497.6 832.0V838.5M497.6 992.0V994.6M500.9 825.4V838.2M500.9 992.0V997.9M503.0 794.9V838.1M503.0 992.0V999.6M505.5 831.0V837.8M505.5 992.0V996.3M507.2 832.1V837.7M507.2 992.0V1000.2M509.6 835.4V837.5M509.6 992.0V997.6M512.1 832.8V837.3M512.1 992.0V1000.1M514.3 806.3V837.1M514.3 992.0V998.2M517.3 834.9V836.8M517.3 992.0V994.2M520.3 811.8V836.6M520.3 992.0V997.1M522.7 835.1V836.4M522.7 992.0V1000.8M525.9 820.3V836.1M525.9 992.0V1001.2M529.3 818.2V835.8M529.3 992.0V1002.5M531.7 831.0V835.6M531.7 992.0V999.9M534.9 831.3V835.3M534.9 992.0V998.0M537.6 830.8V835.1M537.6 992.0V1001.5M539.9 829.1V834.9M539.9 992.0V1001.7M542.4 830.2V834.7M542.4 994.6V997.8M545.5 832.7V834.4M545.5 1000.6V1004.8M548.6 824.5V834.1M548.6 1006.3V1013.2M551.2 849.7V868.4M551.2 1009.0V1014.7M554.3 927.6V949.0M554.3 1009.0V1011.9M557.4 939.4V949.5M557.4 1009.0V1012.5M559.4 948.6V949.9M559.4 1009.0V1014.3M562.6 922.0V950.4M562.6 1009.0V1013.1M565.4 933.6V950.8M565.4 1009.0V1012.7M568.2 932.5V951.3M568.2 1009.0V1012.9M569.9 949.6V951.6M569.9 1009.0V1010.8M571.7 950.4V951.9M571.7 1009.0V1014.6M573.3 937.1V952.1M573.3 1009.0V1014.1M576.3 935.1V952.6M576.3 1009.0V1014.8M578.8 932.4V953.0M578.8 1009.0V1012.7M581.2 935.4V953.4M581.2 1009.0V1012.8M583.1 952.2V953.7M583.1 1009.0V1014.1M586.1 947.6V955.1M586.1 1009.0V1014.3M588.9 940.7V957.9M588.9 1009.0V1013.4M591.5 940.2V960.5M591.5 1009.0V1014.2M593.5 943.8V962.5M593.5 1009.0V1014.7M596.0 946.6V965.0M596.0 1009.0V1012.7M598.4 958.8V967.4M598.4 1009.0V1013.0M601.4 966.6V969.4M601.4 1009.0V1015.9M603.2 967.9V969.8M603.2 1009.0V1010.6M605.2 958.2V970.3M605.2 1009.0V1014.5M608.1 956.4V971.0M608.1 1009.0V1013.1M610.3 967.5V971.6M610.3 1009.0V1012.7M612.5 969.7V972.1M612.5 1009.0V1014.5M615.6 969.2V972.9M615.6 1009.0V1013.3M617.9 951.6V973.5M617.9 1009.0V1013.5M620.6 969.3V974.1M620.6 1009.0V1013.5M622.9 971.1V974.7M622.9 1009.0V1014.9M626.0 974.3V975.5M626.0 1009.0V1013.7M628.3 968.7V973.6M628.3 1009.0V1012.4M630.0 953.4V957.1M630.0 1009.0V1013.7M632.9 920.7V930.4M632.9 1009.0V1014.3M636.1 912.8V915.8M636.1 1009.0V1014.3M639.2 898.6V902.3M639.2 1009.0V1011.9M642.1 883.4V900.5M642.1 1007.7V1011.4M644.8 886.5V902.4M644.8 1004.6V1008.0M648.2 893.4V904.8M648.2 1003.0V1005.0M650.0 890.6V906.1M650.0 1004.5V1008.0M652.8 896.5V908.2M652.8 1007.0V1010.4M655.6 909.1V910.3M655.6 1009.2V1011.6M657.3 905.6V911.6M657.3 1010.3V1014.4M660.5 912.9V914.2M660.5 1012.7V1017.2M662.6 914.0V915.9M662.6 1013.0V1017.7M664.9 916.7V928.2M664.9 1013.0V1015.3M668.0 964.2V965.7M668.0 1013.1V1016.2M670.1 967.7V971.5M670.1 1013.1V1016.2M672.2 957.2V977.2M672.2 1013.1V1014.8M675.4 978.9V983.4M675.4 1013.2V1014.9M678.2 981.2V986.2M678.2 1013.2V1014.8M680.9 985.3V988.9M680.9 1013.3V1015.2M684.2 990.8V992.0M684.2 1013.3V1016.9M687.3 987.5V992.0M687.3 1013.3V1016.6M689.2 988.4V992.0M689.2 1013.4V1018.7M691.3 988.4V992.0M691.3 1013.4V1015.3M694.7 988.5V992.0M694.7 1013.4V1014.6M697.4 986.3V992.0M697.4 1013.5V1016.4M699.9 986.1V992.0M699.9 1013.5V1019.1M702.1 989.8V992.0M702.1 1013.5V1016.2M704.4 988.1V992.0M704.4 1013.5V1017.6M707.4 982.3V992.0M707.4 1013.6V1015.9M710.3 989.5V992.0M710.3 1013.6V1015.3M711.9 989.0V992.0M711.9 1013.6V1017.0M713.7 989.7V991.6M713.7 1013.7V1015.3M716.1 984.7V990.3M716.1 1013.7V1014.9M717.7 985.4V989.4M717.7 1013.7V1017.6M720.3 984.2V988.0M720.3 1013.8V1016.0M723.5 985.1V986.3M723.5 1013.8V1017.1M726.8 984.8V987.3M726.8 1013.8V1016.1M729.4 985.7V988.6M729.4 1013.9V1016.8M732.2 988.2V989.9M732.2 1013.9V1016.4M735.1 987.1V991.3M735.1 1013.9V1019.1M737.6 989.2V992.5M737.6 1014.0V1017.5M739.5 978.9V993.4M739.5 1014.0V1018.1M741.2 992.9V994.2M741.2 1014.1V1016.4M742.8 988.5V995.0M742.8 1014.2V1017.4M745.4 992.1V994.0M765.4 978.8V982.1M767.9 983.8V985.4M770.6 986.6V988.0M772.3 982.8V988.1M772.3 1015.7V1018.4M774.8 981.3V988.2M774.8 1015.9V1017.4M777.7 987.2V988.4M777.7 1016.0V1019.3M780.2 987.1V988.5M780.2 1016.1V1019.8M782.7 984.9V988.6M782.7 1016.3V1017.7M784.5 977.5V988.7M784.5 1016.4V1018.9M787.8 984.5V988.9M787.8 1016.5V1020.8M790.2 983.6V989.1M790.2 1016.7V1018.5M792.7 985.7V990.3M792.7 1016.8V1018.1M795.8 990.5V991.8M795.8 1017.0V1021.3M797.9 991.5V992.7M797.9 1017.1V1019.6M800.1 978.5V993.8M800.1 1017.2V1019.7M802.0 1017.3V1021.3M803.7 1017.4V1023.1M805.4 1017.5V1019.3M807.1 1017.6V1020.9M808.8 1017.7V1019.3M810.5 1017.8V1022.0M812.2 1017.9V1019.8M813.9 1017.9V1019.8M815.6 1018.1V1019.9M817.3 1018.4V1021.5M819.0 1018.6V1023.9M820.7 997.8V1001.0M820.7 1018.9V1020.5M823.3 997.2V1001.5M823.3 1019.3V1021.7M826.2 1000.8V1002.1M826.2 1019.8V1025.5M828.9 986.0V1002.7M828.9 1020.2V1021.7M831.2 1001.7V1003.2M831.2 1020.6V1022.0M833.5 1002.4V1003.7M833.5 1021.0V1025.0M836.6 1003.1V1004.3M836.6 1021.5V1022.8M839.2 1003.0V1004.8M839.2 1021.9V1023.8M841.5 1022.8V1027.9M843.2 1023.6V1027.3M423.5 778.4V1000.0M463.4 836.5V990.0M437.2 869.6V1000.0M444.6 868.5V1000.0M493.4 828.5V900.0M506.5 823.0V900.0M516.0 832.9V900.0M548.3 809.2V900.0M631.2 880.6V1000.0M648.0 830.6V1000.0M650.5 857.0V1000.0M220.0 881.9V960.0M236.8 921.5V960.0M186.7 930.4V970.0M198.7 932.0V970.0M154.0 927.1V975.0M148.7 943.7V980.0M170.4 950.4V990.0M304.7 916.2V980.0M341.7 917.3V980.0M369.0 905.2V980.0M391.8 910.1V980.0M750.2 939.0V1010.0M719.6 974.8V1010.0M784.4 970.4V1010.0M798.4 974.8V1010.0M806.2 971.5V1010.0M128.4 969.6V990.0M138.4 971.9V990.0M1414.4 996.8V1010.0M1420.0 1000.6V1010.0M1440.0 988.5V1005.0M1435.0 996.8V1005.0M1449.0 994.0V1005.0M1460.0 991.2V1005.0M317.0 929.4V980.0" stroke="#1f77b4" stroke-width="5.6" stroke-linecap="round" fill="none"/><path d="M745.2 1017.4h0M748.8 980.1h0M748.0 1014.9h0M749.7 972.9h0M750.4 1014.1h0M752.2 969.0h0M751.9 1013.6h0M753.6 970.9h0M753.1 1014.0h0M755.0 974.6h0M755.4 1013.1h0M756.8 972.0h0M757.1 1014.9h0M758.4 974.8h0M758.3 1016.3h0M760.6 977.2h0M760.0 1013.0h0M761.5 977.2h0M761.7 1015.5h0M763.5 978.9h0M764.0 1016.8h0M765.8 1017.3h0M767.7 1017.1h0M770.3 1016.5h0M801.8 994.2h0M803.3 995.0h0M805.3 998.8h0M807.5 996.4h0M808.8 998.5h0M811.0 998.7h0M811.9 1000.1h0M814.4 998.6h0M815.7 1001.9h0M817.1 999.5h0M819.1 1000.9h0M841.9 1006.0h0M843.5 1007.1h0M845.0 1007.9h0M845.2 1026.7h0M846.3 1009.6h0M846.8 1024.4h0M848.1 1007.0h0M848.1 1026.5h0M850.3 1006.6h0M850.1 1027.7h0M851.5 1006.6h0M851.4 1026.1h0M853.7 1006.1h0M853.6 1027.0h0M855.1 1005.7h0M855.4 1026.5h0M856.5 1005.4h0M856.9 1027.3h0M858.8 1005.8h0M858.2 1027.0h0M860.4 1006.4h0M859.9 1027.4h0M861.9 1007.9h0M861.8 1027.4h0M863.2 1010.7h0M863.3 1027.1h0M865.0 1013.2h0M865.1 1026.9h0M867.0 1015.0h0M867.2 1026.2h0M868.8 1016.7h0M868.3 1028.1h0M870.2 1016.3h0M870.9 1028.3h0M871.7 1017.7h0M872.6 1028.1h0M873.7 1016.7h0M873.8 1028.4h0M875.1 1017.8h0M875.4 1028.6h0M877.3 1018.3h0M877.7 1029.0h0M878.6 1017.8h0M878.8 1029.0h0M880.7 1018.2h0M881.0 1028.4h0M882.6 1018.4h0M882.2 1028.2h0M884.3 1018.1h0M884.2 1029.2h0M885.6 1019.6h0M885.6 1029.7h0M886.9 1018.6h0M887.7 1029.6h0M888.9 1019.3h0M889.1 1029.6h0M890.7 1019.4h0M890.9 1029.7h0M892.2 1019.4h0M892.8 1029.5h0M894.3 1019.7h0M894.0 1030.0h0M895.6 1019.9h0M896.0 1030.1h0M898.0 1020.3h0M897.8 1029.2h0M899.7 1020.1h0M899.6 1030.0h0M900.9 1020.7h0M901.1 1029.6h0M902.3 1020.5h0M903.2 1028.3h0M904.2 1022.3h0M904.0 1030.4h0M906.5 1021.2h0M905.8 1030.3h0M907.5 1022.4h0M908.3 1030.0h0M909.1 1021.8h0M909.8 1030.5h0M911.0 1021.9h0M911.4 1030.5h0M912.5 1023.9h0M913.1 1030.0h0M915.0 1023.9h0M914.4 1028.4h0M916.2 1025.0h0M916.0 1030.8h0M918.1 1026.3h0M917.9 1030.0h0M919.4 1028.1h0M919.7 1030.7h0M921.9 1027.9h0M921.8 1031.0h0M923.3 1028.3h0M923.5 1030.3h0M924.7 1027.2h0M925.0 1031.2h0M926.7 1027.0h0M926.9 1029.8h0M927.9 1026.7h0M928.5 1031.0h0M929.7 1026.1h0M930.3 1031.2h0M931.2 1025.3h0M931.7 1031.6h0M933.8 1024.8h0M933.8 1031.2h0M935.2 1025.4h0M934.8 1031.6h0M936.4 1023.9h0M937.2 1031.4h0M938.0 1024.7h0M938.7 1031.0h0M939.7 1025.2h0M940.2 1029.9h0M941.3 1025.0h0M941.5 1030.6h0M943.8 1026.7h0M943.1 1030.7h0M945.2 1026.6h0M945.3 1031.1h0M946.6 1027.0h0M947.1 1031.8h0M948.5 1026.4h0M948.9 1032.0h0M950.5 1026.2h0M950.5 1031.7h0M952.3 1027.3h0M952.2 1031.7h0M954.2 1026.9h0M954.1 1031.9h0M955.3 1027.8h0M955.9 1031.4h0M957.0 1027.4h0M956.9 1031.9h0M959.0 1028.3h0M959.0 1032.1h0M960.4 1028.3h0M960.1 1031.8h0M961.9 1028.2h0M962.3 1031.5h0M963.7 1029.0h0M964.3 1032.2h0M965.6 1028.6h0M966.0 1031.9h0M967.7 1028.3h0M967.8 1030.8h0M968.7 1027.9h0M969.4 1031.5h0M970.9 1028.6h0M970.6 1031.6h0M972.3 1028.7h0M972.1 1031.1h0M974.5 1027.9h0M973.8 1032.1h0M976.1 1028.5h0M975.8 1032.3h0M977.8 1028.0h0M977.4 1032.1h0M978.9 1028.8h0M979.3 1031.5h0M980.8 1029.1h0M981.2 1032.1h0M983.0 1028.9h0M983.1 1032.2h0M984.8 1028.1h0M984.8 1032.3h0M985.8 1028.6h0M986.4 1031.9h0M987.5 1027.9h0M987.4 1031.9h0M989.6 1028.0h0M989.3 1032.0h0M991.5 1028.0h0M991.2 1032.2h0M993.2 1029.1h0M992.5 1031.9h0M994.9 1028.4h0M994.2 1031.2h0M996.6 1028.1h0M996.6 1032.5h0M997.5 1028.8h0M998.2 1031.4h0M999.2 1028.8h0M999.3 1031.9h0M1001.3 1028.5h0M1001.6 1032.6h0M1003.4 1028.5h0M1003.2 1032.5h0M1004.9 1029.1h0M1004.5 1032.0h0M1006.3 1028.8h0M1006.0 1032.0h0M1008.3 1028.8h0M1008.0 1031.8h0M1010.2 1028.9h0M1009.9 1031.6h0M1011.2 1029.6h0M1011.7 1031.9h0M1013.2 1029.4h0M1012.8 1030.9h0M1015.4 1030.1h0M1015.1 1032.4h0M1016.8 1029.6h0M1016.5 1032.3h0M1018.7 1030.0h0M1018.4 1030.7h0M1020.0 1031.2h0M1019.9 1032.2h0M1021.4 1029.6h0M1021.6 1032.1h0M1023.0 1030.3h0M1023.2 1032.3h0M1025.3 1029.9h0M1024.7 1032.4h0M1026.4 1031.0h0M1027.2 1032.1h0M1028.9 1029.9h0M1028.7 1031.5h0M1030.7 1030.0h0M1030.6 1031.8h0M1031.8 1029.8h0M1032.3 1032.4h0M1033.4 1029.8h0M1033.4 1031.5h0M1035.0 1030.0h0M1034.9 1032.2h0M1036.7 1030.0h0M1036.9 1031.9h0M1038.6 1031.2h0M1038.3 1032.2h0M1040.8 1030.0h0M1040.5 1031.5h0M1042.5 1031.0h0M1042.3 1032.4h0M1043.8 1030.0h0M1044.1 1032.4h0M1045.8 1030.9h0M1045.6 1031.8h0M1047.3 1030.0h0M1047.0 1032.5h0M1048.8 1030.0h0M1048.8 1032.3h0M1050.9 1030.0h0M1050.7 1031.2h0M1052.1 1030.1h0M1052.5 1031.8h0M1054.2 1030.1h0M1054.3 1032.6h0M1055.5 1031.3h0M1055.5 1032.5h0M1057.7 1030.2h0M1057.8 1032.6h0M1059.2 1030.0h0M1059.1 1032.1h0M1060.5 1030.1h0M1060.9 1031.0h0M1062.1 1030.4h0M1062.6 1031.7h0M1064.7 1031.1h0M1064.2 1032.2h0M1066.0 1030.9h0M1066.3 1031.7h0M1067.3 1030.9h0M1067.5 1032.6h0M1069.2 1029.8h0M1069.5 1031.6h0M1070.5 1030.1h0M1071.2 1031.4h0M1072.5 1030.0h0M1073.2 1031.8h0M1074.9 1031.7h0M1074.1 1032.5h0M1076.5 1030.1h0M1075.7 1032.4h0M1077.9 1031.7h0M1077.5 1031.5h0M1079.7 1030.5h0M1079.2 1032.4h0M1081.3 1032.9h0M1081.6 1032.3h0M1083.1 1030.6h0M1083.1 1032.1h0M1084.5 1030.8h0M1084.2 1031.9h0M1086.7 1030.9h0M1086.1 1032.4h0M1087.7 1031.0h0M1087.7 1031.7h0M1089.4 1031.6h0M1089.6 1032.6h0M1091.1 1031.5h0M1091.3 1032.3h0M1093.6 1031.7h0M1093.0 1031.4h0M1094.7 1031.4h0M1094.6 1032.4h0M1096.6 1031.8h0M1096.7 1032.0h0M1098.4 1031.6h0M1098.2 1032.5h0M1099.5 1032.2h0M1099.7 1032.5h0M1101.9 1031.4h0M1101.5 1031.7h0M1103.1 1031.5h0M1103.4 1031.7h0M1104.9 1031.2h0M1104.9 1032.5h0M1106.8 1031.6h0M1106.8 1032.6h0M1108.3 1031.0h0M1108.7 1032.0h0M1109.8 1031.8h0M1109.9 1032.1h0M1111.8 1031.5h0M1112.3 1032.0h0M1113.3 1031.0h0M1113.1 1031.5h0M1115.5 1031.3h0M1114.8 1032.4h0M1116.7 1031.2h0M1116.8 1031.5h0M1118.8 1030.9h0M1118.9 1031.6h0M1120.7 1031.3h0M1120.6 1031.7h0M1122.4 1032.0h0M1121.9 1032.2h0M1123.4 1031.3h0M1124.2 1032.3h0M1125.6 1031.2h0M1125.7 1032.7h0M1127.5 1031.3h0M1126.8 1031.3h0M1128.7 1031.6h0M1128.4 1031.8h0M1130.9 1031.7h0M1130.3 1032.2h0M1132.3 1030.9h0M1132.7 1031.3h0M1134.4 1031.3h0M1133.8 1032.6h0M1135.3 1032.1h0M1135.5 1032.6h0M1137.0 1031.2h0M1137.6 1032.5h0M1139.2 1030.9h0M1138.9 1032.3h0M1140.9 1031.8h0M1141.2 1031.3h0M1142.1 1031.5h0M1142.8 1032.0h0M1143.9 1031.0h0M1144.4 1032.0h0M1146.2 1031.0h0M1145.6 1032.1h0M1147.8 1031.5h0M1147.6 1032.0h0M1149.1 1031.5h0M1148.9 1031.4h0M1150.6 1032.2h0M1151.1 1031.7h0M1152.3 1032.7h0M1152.2 1032.5h0M1154.6 1031.2h0M1154.0 1031.7h0M1156.1 1032.7h0M1155.9 1032.5h0M1157.7 1031.8h0M1157.9 1032.5h0M1159.6 1031.9h0M1159.1 1031.6h0M1161.2 1032.1h0M1161.5 1032.2h0M1163.1 1031.0h0M1163.1 1032.2h0M1164.9 1031.0h0M1164.2 1032.3h0M1166.0 1031.7h0M1165.8 1031.7h0M1167.7 1030.9h0M1168.4 1031.1h0M1170.1 1031.9h0M1169.9 1031.0h0M1171.1 1031.0h0M1170.9 1031.9h0M1172.7 1030.9h0M1172.7 1032.1h0M1175.1 1031.2h0M1174.9 1031.2h0M1176.1 1031.2h0M1176.7 1030.8h0M1177.9 1031.4h0M1178.4 1031.4h0M1179.8 1031.4h0M1179.4 1032.1h0M1181.6 1030.8h0M1181.1 1031.9h0M1182.8 1030.9h0M1183.3 1031.6h0M1184.9 1033.0h0M1184.6 1032.0h0M1187.0 1031.5h0M1187.1 1032.2h0M1188.2 1031.0h0M1187.9 1031.1h0M1190.4 1031.1h0M1190.3 1031.5h0M1192.2 1031.7h0M1191.7 1031.9h0M1193.7 1031.1h0M1193.8 1031.7h0M1195.5 1031.7h0M1195.3 1032.3h0M1196.6 1031.2h0M1196.3 1031.7h0M1198.4 1031.3h0M1198.6 1030.8h0M1200.3 1030.9h0M1200.1 1031.3h0M1202.1 1030.9h0M1202.4 1032.0h0M1203.2 1031.8h0M1203.5 1031.3h0M1205.8 1033.0h0M1205.4 1032.2h0M1207.4 1031.2h0M1207.5 1031.7h0M1208.6 1030.8h0M1208.9 1031.6h0M1210.6 1031.1h0M1210.5 1031.9h0M1212.1 1031.5h0M1212.4 1032.0h0M1213.6 1031.7h0M1214.0 1029.8h0M1215.2 1030.9h0M1215.2 1031.5h0M1217.6 1031.0h0M1217.0 1031.6h0M1218.7 1030.4h0M1218.5 1032.1h0M1220.5 1031.4h0M1220.5 1031.3h0M1222.3 1030.6h0M1222.8 1031.9h0M1224.2 1030.6h0M1224.4 1031.1h0M1225.4 1030.4h0M1225.9 1031.9h0M1227.7 1030.4h0M1227.9 1031.7h0M1229.5 1030.8h0M1229.5 1031.7h0M1231.1 1030.8h0M1231.3 1031.7h0M1232.4 1031.9h0M1232.2 1031.8h0M1234.0 1030.9h0M1234.2 1031.1h0M1236.2 1031.3h0M1235.8 1031.2h0M1237.7 1030.4h0M1238.0 1031.0h0M1239.2 1031.4h0M1239.2 1031.7h0M1241.3 1031.2h0M1241.0 1030.7h0M1243.1 1030.2h0M1242.8 1031.9h0M1244.8 1030.1h0M1244.1 1031.7h0M1246.5 1030.1h0M1246.3 1031.9h0M1248.3 1030.0h0M1248.2 1031.4h0M1249.9 1031.1h0M1249.9 1030.2h0M1251.7 1029.7h0M1251.1 1030.5h0M1253.0 1030.4h0M1252.5 1031.3h0M1255.0 1030.5h0M1255.0 1030.9h0M1256.5 1029.9h0M1256.7 1030.9h0M1258.2 1029.8h0M1258.1 1031.7h0M1259.3 1029.5h0M1259.6 1031.8h0M1261.0 1029.8h0M1261.7 1031.6h0M1263.4 1030.3h0M1263.0 1031.2h0M1264.6 1029.6h0M1264.9 1031.3h0M1266.1 1030.1h0M1266.1 1031.8h0M1267.9 1030.6h0M1268.5 1031.8h0M1269.7 1030.0h0M1270.1 1030.8h0M1271.8 1031.8h0M1272.1 1031.0h0M1273.4 1030.2h0M1272.9 1031.8h0M1274.8 1029.6h0M1275.1 1031.5h0M1277.0 1029.1h0M1276.7 1030.8h0M1278.1 1029.6h0M1278.8 1030.0h0M1279.9 1029.2h0M1280.0 1031.4h0M1281.6 1029.1h0M1282.1 1031.4h0M1283.1 1029.4h0M1283.7 1030.8h0M1285.4 1030.0h0M1284.9 1031.6h0M1287.2 1029.0h0M1286.9 1031.0h0M1288.2 1029.2h0M1288.2 1031.3h0M1290.3 1028.8h0M1290.0 1031.6h0M1292.0 1029.5h0M1291.6 1031.1h0M1293.4 1029.0h0M1294.0 1031.2h0M1295.5 1029.4h0M1295.8 1030.8h0M1296.7 1028.8h0M1297.6 1031.2h0M1298.9 1029.0h0M1298.6 1030.3h0M1300.2 1029.5h0M1300.5 1031.0h0M1302.0 1029.6h0M1302.6 1029.9h0M1304.4 1028.6h0M1303.5 1030.4h0M1305.9 1028.5h0M1305.8 1030.1h0M1307.7 1028.3h0M1307.1 1030.1h0M1308.5 1028.7h0M1309.4 1029.4h0M1310.6 1029.8h0M1310.5 1030.0h0M1312.5 1028.2h0M1312.6 1030.4h0M1313.8 1027.8h0M1313.8 1030.0h0M1315.5 1029.0h0M1315.5 1029.4h0M1317.1 1027.4h0M1317.8 1030.0h0M1319.4 1027.5h0M1319.5 1029.1h0M1320.6 1024.5h0M1320.9 1029.7h0M1322.2 1023.2h0M1322.4 1029.1h0M1324.6 1022.3h0M1324.7 1029.1h0M1325.6 1022.0h0M1326.5 1029.0h0M1328.0 1022.9h0M1328.1 1028.2h0M1329.5 1024.7h0M1329.4 1029.0h0M1331.4 1027.1h0M1331.3 1029.4h0M1332.6 1027.0h0M1332.3 1030.2h0M1334.4 1027.6h0M1334.1 1029.9h0M1336.5 1026.6h0M1335.7 1030.3h0M1338.4 1026.3h0M1338.0 1029.0h0M1340.1 1027.0h0M1339.8 1029.0h0M1340.9 1026.7h0M1341.5 1029.9h0M1343.0 1025.7h0M1343.2 1029.1h0M1344.9 1025.8h0M1344.7 1028.5h0M1346.6 1025.6h0M1346.8 1029.1h0M1347.8 1025.9h0M1348.0 1030.2h0M1349.6 1024.9h0M1350.1 1030.1h0M1352.0 1024.9h0M1351.7 1030.4h0M1353.7 1025.5h0M1353.0 1030.1h0M1355.3 1024.5h0M1355.2 1030.0h0M1356.9 1023.8h0M1356.9 1030.1h0M1358.5 1023.6h0M1358.4 1030.2h0M1360.3 1023.2h0M1359.7 1029.8h0M1361.4 1022.9h0M1361.3 1029.8h0M1363.4 1022.9h0M1363.9 1030.1h0M1364.7 1022.6h0M1365.5 1028.9h0M1367.0 1021.1h0M1366.4 1029.6h0M1368.8 1020.6h0M1368.7 1028.7h0M1370.3 1020.1h0M1370.7 1028.8h0M1371.8 1020.7h0M1371.7 1029.3h0M1373.7 1021.1h0M1373.2 1029.0h0M1375.3 1018.7h0M1375.3 1029.2h0M1377.5 1018.7h0M1377.0 1029.0h0M1378.3 1017.2h0M1378.5 1028.9h0M1380.6 1016.7h0M1380.9 1028.9h0M1381.7 1017.0h0M1382.0 1028.8h0M1384.1 1017.0h0M1384.2 1028.4h0M1385.1 1016.8h0M1385.6 1028.2h0M1387.0 1016.8h0M1387.2 1028.4h0M1389.0 1017.2h0M1389.3 1027.9h0M1390.6 1018.5h0M1391.0 1027.5h0M1392.2 1018.1h0M1392.4 1028.5h0M1394.5 1018.5h0M1394.2 1028.5h0M1396.1 1020.2h0M1395.7 1027.8h0M1396.9 1021.0h0M1397.9 1027.6h0M1398.9 1019.4h0M1398.9 1028.5h0M1400.9 1018.2h0M1400.5 1028.4h0M1402.5 1017.0h0M1402.8 1027.6h0M1403.8 1015.7h0M1404.7 1027.9h0M1405.8 1015.6h0M1405.9 1027.0h0M1407.2 1013.2h0M1407.7 1026.8h0M1409.2 1010.9h0M1409.8 1026.0h0M1410.8 1008.8h0M1411.1 1024.9h0M1413.0 1007.3h0M1412.9 1025.1h0M1414.6 1005.8h0M1414.8 1025.2h0M1416.1 1006.6h0M1415.7 1025.7h0M1417.8 1006.0h0M1417.6 1025.6h0M1419.9 1007.0h0M1419.2 1024.8h0M1421.0 1007.3h0M1421.0 1026.4h0M1423.1 1009.2h0M1423.0 1026.7h0M1425.1 1010.5h0M1424.3 1026.3h0M1426.5 1009.5h0M1426.7 1026.3h0M1428.5 1008.4h0M1427.8 1026.2h0M1430.1 1008.6h0M1430.1 1025.6h0M1431.3 1007.2h0M1431.0 1026.0h0M1433.4 1005.7h0M1433.3 1026.2h0M1434.6 1005.5h0M1434.4 1025.8h0M1436.1 1004.0h0M1437.0 1026.2h0M1437.7 1003.8h0M1437.8 1026.2h0M1440.4 1002.4h0M1439.7 1026.1h0M1441.2 1002.6h0M1442.0 1025.2h0M1443.5 1001.5h0M1443.7 1024.9h0M1444.6 1001.7h0M1444.6 1025.0h0M1446.2 1002.7h0M1446.4 1025.1h0M1448.0 1001.1h0M1448.9 1024.9h0M1450.6 1003.0h0M1450.1 1025.1h0M1451.6 1003.3h0M1451.7 1024.8h0M1453.3 1004.8h0M1453.6 1024.5h0M1454.8 1006.3h0M1454.9 1024.8h0M1456.5 1005.5h0M1456.6 1023.6h0M1458.2 1004.2h0M1459.1 1024.4h0M1460.6 1000.9h0M1460.8 1024.4h0M1461.8 1000.2h0M1461.5 1023.9h0M118.3 1022.0h0M121.4 988.4h0M125.1 981.5h0M125.9 980.6h0M124.8 1020.1h0M126.0 1021.4h0M126.1 985.4h0M126.5 984.3h0M131.8 1018.8h0M132.6 1020.1h0M135.5 971.3h0M135.6 965.9h0M135.9 1016.9h0M137.5 1018.6h0M137.5 1019.5h0M140.4 982.6h0M142.7 975.4h0M141.1 1021.4h0M141.0 1021.8h0M144.8 979.1h0M144.4 1020.7h0M145.3 1021.4h0M147.0 968.5h0M147.8 964.9h0M146.1 964.5h0M150.1 1016.5h0M150.6 1016.6h0M152.8 954.3h0M152.9 949.2h0M151.7 1019.1h0M151.7 1019.5h0M155.1 966.5h0M155.2 1015.3h0M156.6 965.9h0M157.1 1017.6h0M160.4 967.0h0M159.4 1015.3h0M165.0 966.6h0M165.0 965.2h0M167.4 973.4h0M167.9 1020.1h0M167.5 1020.5h0M173.6 1020.5h0M175.6 1016.0h0M179.1 967.5h0M179.2 963.1h0M180.9 964.8h0M182.2 963.1h0M184.6 967.7h0M185.4 955.9h0M186.6 952.3h0M185.3 950.2h0M188.8 1018.4h0M192.4 951.5h0M192.4 948.9h0M196.2 943.9h0M195.1 940.2h0M195.1 1011.6h0M196.1 1012.6h0M199.3 939.5h0M199.7 1007.5h0M200.0 1007.7h0M201.9 937.1h0M201.8 935.1h0M204.9 925.2h0M205.3 918.9h0M205.6 914.6h0M209.6 941.7h0M208.3 941.2h0M211.3 941.4h0M212.2 1006.8h0M214.9 938.3h0M214.8 938.3h0M214.8 1007.7h0M216.6 940.1h0M215.6 940.0h0M216.2 1006.2h0M217.5 928.9h0M218.0 925.2h0M218.5 922.6h0M218.0 1005.7h0M221.6 926.3h0M221.2 922.3h0M220.5 919.0h0M222.1 1006.4h0M222.3 929.6h0M222.2 926.2h0M226.4 916.7h0M226.3 911.2h0M226.5 907.1h0M225.1 905.2h0M226.4 1012.0h0M226.2 1012.0h0M228.4 928.9h0M228.3 927.9h0M228.6 1012.1h0M228.9 1013.3h0M230.5 1012.9h0M230.4 1013.5h0M233.9 912.3h0M232.7 909.0h0M232.4 904.9h0M233.3 899.6h0M236.5 913.8h0M237.0 907.7h0M236.8 902.2h0M236.4 900.5h0M236.8 1006.8h0M235.7 1006.9h0M238.8 922.6h0M238.7 919.3h0M239.4 916.9h0M237.7 1006.3h0M237.8 1006.4h0M240.3 931.7h0M240.2 1011.9h0M241.6 1014.7h0M242.8 918.8h0M243.4 913.6h0M241.8 1007.1h0M245.1 1007.7h0M246.4 1008.4h0M247.7 923.4h0M249.2 919.1h0M247.8 1008.5h0M248.3 1008.6h0M251.2 1008.8h0M251.4 1011.2h0M254.0 912.7h0M254.2 906.3h0M253.4 901.8h0M254.4 898.2h0M254.2 1011.4h0M254.3 1015.5h0M256.2 928.1h0M255.4 1009.5h0M258.7 917.0h0M258.1 911.7h0M258.1 906.7h0M263.6 1010.0h0M266.7 919.4h0M266.3 915.3h0M265.2 911.7h0M268.2 925.8h0M267.7 923.1h0M266.9 1007.1h0M271.2 922.3h0M269.5 917.2h0M270.0 1010.0h0M274.2 910.6h0M273.3 905.5h0M273.8 900.3h0M273.9 897.9h0M277.0 1007.9h0M279.3 913.6h0M278.7 909.7h0M278.9 906.1h0M278.0 905.1h0M279.4 1007.8h0M280.5 897.3h0M280.2 892.9h0M280.9 888.1h0M280.0 882.3h0M279.8 877.3h0M280.6 875.6h0M280.5 1009.4h0M280.2 1011.7h0M283.1 1012.6h0M283.8 1016.4h0M287.4 920.0h0M286.9 915.6h0M286.9 1014.6h0M286.4 1016.6h0M288.5 925.9h0M289.4 923.7h0M292.0 918.1h0M291.0 913.0h0M291.6 912.9h0M293.5 914.2h0M293.7 909.7h0M294.8 909.7h0M294.7 1014.3h0M297.4 1010.0h0M301.1 906.9h0M299.8 904.6h0M303.7 912.1h0M302.9 1011.9h0M303.7 1013.2h0M305.8 905.7h0M305.9 902.8h0M308.1 910.9h0M308.5 909.5h0M309.3 1008.6h0M311.4 1013.0h0M314.7 904.9h0M314.4 902.2h0M320.1 880.0h0M319.5 874.0h0M319.2 870.9h0M319.3 865.4h0M319.2 860.1h0M319.9 856.6h0M319.0 1013.5h0M321.9 908.1h0M320.8 907.0h0M324.2 921.6h0M322.9 918.0h0M323.4 917.2h0M323.8 1013.1h0M325.4 945.5h0M326.4 944.8h0M326.3 1012.1h0M325.7 1013.0h0M332.2 944.9h0M331.7 1012.2h0M332.9 1014.0h0M335.1 940.6h0M334.8 937.0h0M336.6 1011.1h0M342.2 882.2h0M343.0 879.0h0M342.8 875.9h0M343.1 1012.9h0M343.0 1014.8h0M346.1 881.7h0M345.6 877.7h0M344.9 876.2h0M346.3 1007.2h0M347.6 879.1h0M347.2 875.7h0M348.0 869.5h0M347.9 869.3h0M348.3 1010.9h0M349.9 884.3h0M351.1 880.5h0M350.0 1005.6h0M353.6 888.6h0M353.5 1007.9h0M356.2 890.4h0M356.1 1010.6h0M357.5 1013.9h0M360.4 1005.1h0M364.9 897.3h0M364.4 894.3h0M364.2 892.7h0M367.5 1008.2h0M370.9 905.6h0M370.2 902.7h0M369.3 1005.8h0M372.9 908.1h0M371.9 906.6h0M372.8 1010.7h0M372.1 1013.2h0M374.7 900.8h0M373.9 898.9h0M377.8 900.2h0M377.2 897.0h0M377.1 895.1h0M377.7 1010.6h0M378.3 1013.9h0M379.2 908.9h0M380.5 1007.8h0M380.2 1009.2h0M383.0 903.9h0M382.4 899.9h0M382.8 1012.1h0M388.7 915.7h0M392.6 910.4h0M391.3 905.0h0M395.5 924.2h0M397.7 921.5h0M397.8 916.6h0M397.1 1005.4h0M403.6 923.3h0M403.2 919.9h0M402.3 915.4h0M403.3 915.3h0M403.1 1006.6h0M405.1 921.0h0M404.9 915.3h0M406.3 912.6h0M410.7 898.9h0M409.8 895.7h0M411.0 892.9h0M414.3 881.2h0M414.5 875.0h0M413.0 870.5h0M414.6 1008.6h0M414.5 1008.9h0M417.9 857.8h0M417.4 852.3h0M416.4 848.1h0M417.7 843.5h0M417.6 1005.2h0M422.4 823.1h0M422.9 820.0h0M421.2 813.9h0M421.6 809.2h0M421.9 805.1h0M421.5 800.6h0M421.3 798.2h0M421.2 1004.5h0M424.9 844.6h0M424.6 844.4h0M424.8 1000.6h0M425.7 1002.2h0M427.8 823.4h0M427.1 820.3h0M428.1 814.4h0M428.7 809.5h0M427.2 807.4h0M430.5 841.7h0M430.3 838.9h0M431.2 1002.9h0M430.1 1006.1h0M433.9 847.0h0M433.4 1001.1h0M436.1 838.5h0M436.5 833.2h0M437.5 1007.8h0M436.1 1009.8h0M438.8 848.6h0M438.8 1005.8h0M439.5 1007.4h0M440.7 999.2h0M442.1 833.2h0M443.7 826.8h0M442.4 825.5h0M442.5 1001.7h0M445.8 840.6h0M446.2 838.2h0M446.2 1004.1h0M444.7 1004.9h0M449.1 999.3h0M451.8 1006.6h0M451.5 1009.6h0M452.2 1011.2h0M454.2 812.7h0M454.9 806.9h0M454.2 800.7h0M454.2 795.7h0M454.6 789.4h0M456.3 836.0h0M456.3 830.8h0M458.6 845.7h0M459.5 1000.5h0M458.7 1001.7h0M461.1 819.7h0M461.3 815.8h0M462.1 809.7h0M461.9 804.1h0M462.0 799.7h0M462.7 796.9h0M461.2 1000.8h0M461.3 1002.2h0M463.8 844.1h0M463.8 842.4h0M465.2 999.2h0M468.0 843.2h0M467.6 839.9h0M467.0 839.5h0M467.2 1000.3h0M468.8 847.4h0M471.2 834.4h0M470.4 828.6h0M471.9 825.6h0M470.3 1004.0h0M470.3 1004.4h0M472.7 1003.5h0M473.3 1003.6h0M475.8 998.3h0M479.9 870.7h0M479.1 868.9h0M479.8 1003.1h0M481.9 881.9h0M481.4 881.8h0M480.7 1007.2h0M480.6 1009.5h0M483.9 1002.1h0M482.5 1003.6h0M488.9 861.9h0M487.4 857.6h0M487.6 851.5h0M489.0 848.3h0M488.8 848.1h0M488.9 1002.1h0M491.0 827.4h0M490.2 823.0h0M491.2 816.9h0M491.7 816.4h0M491.4 998.8h0M494.6 818.7h0M494.8 812.3h0M494.5 811.3h0M493.4 1004.3h0M494.5 1006.0h0M497.1 827.9h0M497.7 826.6h0M501.6 820.5h0M501.0 816.6h0M501.5 814.9h0M501.7 1002.6h0M503.1 789.2h0M503.0 785.9h0M503.0 781.7h0M503.0 776.1h0M502.1 771.3h0M503.8 767.2h0M503.0 760.9h0M503.4 759.6h0M503.6 1005.1h0M502.7 1005.9h0M505.0 827.0h0M505.8 825.4h0M505.4 999.8h0M507.9 1005.0h0M506.8 1006.8h0M512.2 829.2h0M511.5 1005.7h0M512.1 1006.7h0M513.4 802.3h0M513.6 798.3h0M514.7 795.0h0M513.5 790.0h0M513.9 785.2h0M513.5 782.1h0M514.8 781.1h0M514.6 1002.3h0M514.2 1003.3h0M520.2 807.8h0M520.0 803.7h0M520.6 797.3h0M521.2 792.6h0M519.7 791.6h0M519.9 1000.8h0M520.8 1001.2h0M523.5 1007.1h0M522.9 1007.9h0M526.6 816.7h0M525.3 813.3h0M526.1 808.9h0M525.4 807.3h0M526.7 1006.9h0M525.9 1008.6h0M529.9 814.0h0M529.1 809.4h0M528.5 805.6h0M528.4 803.9h0M529.0 1006.1h0M530.1 1011.1h0M531.9 827.2h0M531.8 1005.4h0M531.1 1006.3h0M535.8 1001.6h0M534.1 1002.9h0M538.5 827.3h0M537.5 1004.6h0M536.8 1009.3h0M539.2 825.8h0M539.7 824.4h0M539.2 1006.4h0M539.5 1009.7h0M549.2 821.5h0M549.3 816.6h0M547.9 1018.8h0M551.0 845.2h0M550.9 842.0h0M551.0 837.8h0M551.7 834.4h0M551.6 1019.3h0M555.0 921.4h0M554.0 916.2h0M554.2 912.9h0M553.5 910.0h0M556.9 936.4h0M557.2 931.2h0M557.6 931.2h0M562.2 916.3h0M563.3 910.9h0M562.6 907.1h0M563.5 900.9h0M562.9 898.7h0M562.1 1016.2h0M562.2 1016.5h0M565.3 929.0h0M564.9 923.2h0M565.9 920.1h0M566.2 919.5h0M564.7 1015.7h0M568.0 926.2h0M568.6 920.7h0M568.9 917.1h0M568.1 1016.2h0M574.0 931.0h0M573.0 925.5h0M573.7 924.9h0M576.1 932.0h0M576.3 928.7h0M577.1 923.7h0M576.2 920.8h0M576.2 1019.6h0M579.6 929.3h0M579.0 923.4h0M578.7 917.3h0M578.2 915.6h0M581.2 930.5h0M581.6 927.2h0M582.0 923.8h0M580.8 920.7h0M585.5 941.5h0M586.9 941.5h0M589.7 937.4h0M588.6 934.4h0M589.8 930.8h0M589.7 926.6h0M591.9 936.8h0M591.9 933.6h0M590.8 929.1h0M590.9 924.8h0M592.2 923.6h0M592.2 1017.2h0M592.0 1018.4h0M593.4 939.2h0M593.7 934.9h0M592.7 930.9h0M593.7 928.5h0M593.6 1019.3h0M592.6 1019.4h0M596.8 943.4h0M595.6 938.5h0M595.9 932.0h0M595.2 931.5h0M596.9 1015.7h0M597.9 954.4h0M598.7 951.9h0M600.7 1019.5h0M601.6 1021.6h0M604.4 951.9h0M605.2 948.3h0M605.0 1019.1h0M607.7 952.2h0M608.2 948.0h0M608.6 944.5h0M607.9 1016.5h0M610.0 964.2h0M610.9 1015.7h0M612.3 1018.5h0M611.9 1019.0h0M615.7 1016.8h0M618.5 946.9h0M617.5 943.2h0M617.0 936.9h0M617.3 933.6h0M618.5 1017.1h0M618.3 1017.1h0M619.7 966.3h0M620.6 965.4h0M621.2 1017.2h0M623.7 968.1h0M625.8 1017.0h0M625.8 1017.5h0M627.7 965.3h0M627.7 964.7h0M630.5 1017.6h0M633.0 916.3h0M632.0 912.7h0M632.9 1018.7h0M642.5 878.7h0M641.5 875.5h0M641.5 871.7h0M642.8 869.3h0M642.1 1014.5h0M645.3 883.4h0M644.9 878.8h0M644.7 874.0h0M644.2 873.5h0M644.3 1010.8h0M648.8 890.3h0M648.9 886.0h0M648.8 884.1h0M649.6 885.3h0M649.7 879.4h0M649.6 877.9h0M650.7 1010.8h0M652.5 891.9h0M653.3 886.9h0M653.6 1013.1h0M659.7 1020.9h0M662.8 1021.5h0M665.2 912.1h0M664.7 908.0h0M665.3 907.3h0M669.5 964.5h0M672.3 951.7h0M672.1 948.1h0M671.8 944.2h0M672.4 941.0h0M672.8 940.9h0M675.5 975.1h0M678.1 977.2h0M681.2 982.4h0M685.0 1019.9h0M687.1 983.8h0M696.8 981.7h0M699.7 981.3h0M704.7 984.8h0M706.5 978.3h0M708.0 974.9h0M707.1 974.3h0M718.5 982.0h0M718.4 1020.8h0M735.5 983.7h0M737.1 1020.3h0M739.6 975.6h0M739.4 970.8h0M739.7 967.0h0M742.3 983.2h0M764.6 976.1h0M774.7 978.0h0M774.5 975.6h0M782.7 981.8h0M785.0 973.2h0M784.5 969.4h0M783.8 968.3h0M799.4 974.6h0M799.4 971.3h0M800.7 966.6h0M799.3 966.0h0M828.7 980.3h0M829.0 975.8h0M829.2 972.5h0M829.5 972.3h0M423.3 772.4h0M422.9 768.8h0M423.0 765.4h0M424.1 761.6h0M423.3 757.1h0M423.6 753.6h0M424.0 747.3h0M423.5 742.0h0M424.2 735.8h0M422.9 731.1h0M423.3 726.3h0M423.3 722.4h0M424.3 717.8h0M423.8 713.8h0M423.6 710.0h0M423.9 705.4h0M423.2 702.3h0M423.1 696.2h0M424.1 692.1h0M423.9 686.7h0M423.4 682.6h0M424.4 677.7h0M423.1 672.3h0M424.2 667.3h0M423.5 662.5h0M423.2 657.4h0M424.2 654.4h0M423.4 649.8h0M424.1 645.6h0M423.4 641.5h0M423.2 638.0h0M422.6 632.8h0M424.2 627.9h0M424.0 621.7h0M423.1 617.8h0M422.7 611.6h0M423.9 606.5h0M422.9 603.3h0M423.0 598.7h0M423.1 597.0h0M462.8 830.2h0M463.6 826.3h0M464.3 821.9h0M463.5 816.9h0M463.8 810.6h0M463.9 805.8h0M464.0 801.1h0M463.7 795.8h0M462.7 791.0h0M464.2 784.7h0M463.7 779.7h0M464.0 773.4h0M464.2 768.8h0M463.6 763.0h0M463.6 757.9h0M462.5 754.3h0M463.8 749.0h0M463.0 744.4h0M464.1 739.7h0M463.9 734.9h0M464.1 731.4h0M463.9 726.3h0M462.5 720.4h0M464.2 717.1h0M464.1 711.2h0M463.9 711.0h0M436.7 864.8h0M437.5 860.7h0M437.2 856.8h0M437.1 851.6h0M437.3 847.2h0M436.8 841.7h0M436.7 835.2h0M437.5 830.2h0M437.9 825.0h0M437.8 820.6h0M438.0 817.5h0M438.1 814.4h0M437.1 809.0h0M437.0 803.5h0M437.1 800.1h0M436.7 796.8h0M437.7 793.6h0M437.9 790.1h0M436.8 784.6h0M437.0 778.4h0M436.7 774.6h0M437.9 771.5h0M437.7 766.7h0M437.8 763.0h0M445.1 864.9h0M444.8 861.7h0M444.6 855.2h0M443.8 848.8h0M445.0 844.2h0M444.0 839.6h0M443.9 834.6h0M444.9 830.3h0M444.6 825.5h0M444.3 822.3h0M445.3 816.6h0M445.3 812.1h0M443.9 806.9h0M444.9 803.0h0M445.1 798.2h0M443.8 792.1h0M445.2 787.0h0M445.3 782.0h0M444.1 778.2h0M443.8 771.8h0M443.9 768.4h0M445.0 764.0h0M443.9 761.0h0M493.5 822.9h0M493.4 818.8h0M493.0 814.1h0M493.2 809.9h0M493.7 806.1h0M492.7 802.2h0M494.0 797.9h0M492.6 794.9h0M493.5 790.0h0M493.9 784.5h0M493.8 780.6h0M492.9 776.1h0M493.8 770.5h0M492.9 770.0h0M507.4 819.0h0M505.7 812.8h0M507.4 807.7h0M507.3 803.9h0M506.1 798.0h0M506.0 792.0h0M505.7 786.1h0M506.5 781.5h0M506.9 776.5h0M505.7 771.8h0M506.5 768.3h0M506.5 763.9h0M505.7 760.0h0M515.6 828.3h0M516.4 824.6h0M515.5 819.8h0M516.6 816.2h0M516.0 811.0h0M516.0 807.5h0M515.3 801.2h0M515.5 795.9h0M515.5 791.4h0M516.4 786.1h0M516.2 782.2h0M516.2 778.3h0M515.2 778.0h0M549.1 805.6h0M547.8 801.7h0M547.4 795.2h0M548.5 789.7h0M547.6 783.8h0M548.1 778.9h0M547.5 774.0h0M548.9 768.1h0M548.8 763.8h0M548.7 760.7h0M548.9 756.7h0M547.5 751.8h0M547.5 748.4h0M547.4 744.0h0M548.8 740.9h0M548.4 736.5h0M547.7 735.0h0M632.0 875.2h0M631.1 871.1h0M630.4 866.6h0M630.9 860.2h0M631.0 856.1h0M630.4 849.9h0M631.8 845.8h0M631.0 840.7h0M631.0 834.5h0M631.4 828.9h0M631.6 824.4h0M631.3 818.7h0M631.3 815.1h0M630.7 809.8h0M631.7 806.2h0M631.4 800.4h0M630.6 796.8h0M630.4 791.7h0M630.8 787.6h0M631.9 783.0h0M647.2 824.4h0M648.0 818.3h0M648.5 813.7h0M648.6 810.1h0M648.3 806.0h0M647.9 802.8h0M647.6 796.8h0M647.8 793.7h0M647.5 788.7h0M647.7 783.0h0M648.8 779.1h0M648.2 774.6h0M648.4 768.7h0M647.5 764.4h0M648.9 759.3h0M648.3 753.5h0M648.0 747.7h0M648.5 743.3h0M648.0 737.6h0M648.5 731.5h0M648.8 727.3h0M648.1 721.4h0M647.6 718.4h0M648.1 712.8h0M648.2 707.2h0M648.2 703.6h0M648.0 698.0h0M648.8 692.2h0M648.0 692.0h0M649.9 853.3h0M651.2 849.3h0M651.1 845.0h0M649.7 841.4h0M650.0 836.2h0M650.1 832.5h0M649.7 828.9h0M651.2 822.8h0M650.0 817.4h0M650.3 813.1h0M651.2 807.5h0M651.3 804.5h0M650.3 798.8h0M650.7 793.9h0M650.7 789.9h0M650.7 785.9h0M651.3 779.5h0M649.8 774.1h0M650.5 768.5h0M651.0 763.6h0M650.3 758.6h0M650.1 752.4h0M651.0 746.5h0M650.7 740.2h0M649.7 740.0h0M219.3 877.3h0M219.2 872.5h0M219.3 868.4h0M220.5 862.0h0M219.6 856.4h0M220.8 850.7h0M220.0 845.1h0M220.4 841.7h0M219.9 836.0h0M220.2 829.7h0M220.2 823.4h0M219.5 820.4h0M220.5 818.0h0M237.3 917.0h0M237.4 911.1h0M236.9 906.0h0M236.8 901.8h0M237.3 895.5h0M236.7 890.6h0M236.6 890.0h0M185.9 926.0h0M187.2 922.6h0M186.3 917.5h0M187.5 913.8h0M187.6 908.6h0M186.8 903.9h0M186.5 899.8h0M186.0 898.0h0M199.2 926.6h0M198.2 920.8h0M198.0 917.3h0M199.4 913.1h0M198.7 908.4h0M199.6 905.3h0M198.7 901.0h0M154.5 923.2h0M154.8 919.6h0M154.8 916.0h0M154.8 909.8h0M153.7 904.2h0M153.7 898.9h0M154.2 894.9h0M154.6 888.6h0M154.1 888.0h0M148.2 937.7h0M149.2 932.6h0M148.9 927.5h0M149.3 921.8h0M149.1 918.7h0M148.2 915.3h0M148.6 914.0h0M169.9 946.5h0M170.6 940.7h0M170.0 935.6h0M169.8 929.3h0M170.7 925.3h0M169.7 920.6h0M171.2 918.0h0M303.9 910.5h0M304.8 904.6h0M303.9 898.2h0M304.7 892.4h0M304.2 886.0h0M305.0 881.9h0M304.6 876.1h0M305.0 870.3h0M305.1 867.2h0M304.2 864.0h0M342.2 914.1h0M341.7 908.4h0M341.2 903.6h0M340.8 898.7h0M342.3 894.9h0M341.0 889.5h0M342.5 885.7h0M340.8 881.8h0M342.6 876.4h0M342.5 870.8h0M341.3 866.0h0M368.6 899.0h0M369.2 893.8h0M369.1 890.1h0M368.7 886.3h0M368.5 881.1h0M369.3 877.6h0M368.8 873.9h0M369.4 868.1h0M369.0 862.1h0M369.1 858.9h0M369.0 853.8h0M369.6 847.9h0M369.5 844.0h0M392.1 904.6h0M392.4 900.0h0M391.2 893.9h0M391.6 887.7h0M391.2 883.5h0M391.9 877.3h0M391.2 873.6h0M391.6 869.7h0M391.8 865.5h0M391.7 862.4h0M391.6 856.5h0M392.7 853.0h0M751.1 934.7h0M749.4 929.4h0M750.8 924.7h0M750.7 919.2h0M751.0 914.4h0M750.2 909.6h0M750.6 906.6h0M750.6 901.1h0M749.5 896.3h0M750.2 891.1h0M749.6 885.6h0M750.6 881.8h0M750.1 881.0h0M719.4 970.8h0M720.3 965.5h0M720.2 960.7h0M719.4 957.7h0M719.4 953.6h0M719.7 950.6h0M719.3 947.1h0M720.3 946.0h0M783.7 964.1h0M785.2 960.7h0M784.4 956.2h0M784.8 949.9h0M783.8 946.2h0M784.0 941.6h0M783.7 938.0h0M799.2 969.1h0M798.9 965.7h0M798.1 960.8h0M797.5 956.5h0M798.6 950.1h0M798.5 946.2h0M798.4 946.0h0M805.9 965.1h0M806.1 959.3h0M805.8 954.1h0M805.9 948.1h0M806.4 943.8h0M806.1 940.0h0M127.7 963.3h0M128.4 959.2h0M128.6 955.8h0M128.6 953.0h0M138.5 966.2h0M138.5 962.7h0M138.0 959.3h0M139.2 957.0h0M1414.0 993.2h0M1413.5 987.6h0M1414.3 986.0h0M1420.2 995.1h0M1420.4 993.0h0M1440.3 982.1h0M1439.4 978.1h0M1440.6 975.0h0M1434.2 992.9h0M1434.3 990.0h0M1448.3 988.7h0M1448.2 985.0h0M1459.5 987.0h0M1459.6 983.8h0M1460.2 980.5h0M1460.1 980.0h0M317.7 922.9h0M317.8 917.1h0M316.2 912.6h0M317.7 909.3h0M317.8 903.2h0M316.9 900.0h0M317.2 894.0h0M316.7 889.7h0M317.9 888.0h0M203.3 808.5h0M203.3 818.6h0M203.3 834.7h0M203.3 852.7h0M203.3 874.9h0M203.3 882.5h0M316.7 810.2h0M316.7 818.3h0M316.7 824.8h0M316.7 842.2h0M316.7 853.1h0M316.7 859.7h0M349.3 820.5h0M349.3 826.0h0M368.9 827.0h0M371.0 837.0h0M154.0 893.0h0M154.0 898.0h0M154.0 903.0h0M150.4 913.5h0M170.4 933.0h0M170.4 939.0h0M463.4 654.2h0M463.4 668.4h0M463.4 674.2h0M463.4 696.5h0M516.0 702.5h0M516.0 705.8h0M516.0 715.6h0M516.0 726.5h0M516.0 736.3h0M516.0 750.4h0M548.3 715.6h0M548.3 718.0h0M507.3 748.0h0M507.3 753.7h0M648.0 649.4h0M648.0 653.0h0M648.0 656.0h0M648.0 663.5h0M648.0 671.0h0M648.0 677.5h0M750.2 853.1h0M750.2 859.2h0" stroke="#1f77b4" stroke-width="5.6" stroke-linecap="round" fill="none"/><path d="M116.0 1011.9 L117.5 1010.5 L119.0 1006.1 L120.4 1002.8 L122.0 1004.9 L123.5 1011.1 L124.7 1010.9 L126.5 1002.5 L128.0 994.0 L129.5 993.3 L131.2 996.8 L132.5 1003.1 L134.0 1008.6 L135.6 1012.4 L137.0 1008.8 L138.9 1003.9 L140.0 1006.5 L142.1 1011.9 L143.0 1007.2 L144.5 993.4 L145.4 988.5 L147.5 991.5 L148.7 993.0 L150.8 969.0 L152.0 981.0 L153.5 992.3 L155.2 1004.5 L156.5 1003.4 L158.0 1004.2 L159.5 1000.6 L161.0 1000.7 L162.8 1005.8 L164.0 1000.6 L165.5 994.9 L167.0 991.1 L169.3 976.4 L171.5 983.0 L173.0 991.9 L174.8 998.9 L176.0 998.0 L177.5 997.4 L179.0 991.4 L181.3 988.3 L183.5 980.5 L185.0 971.3 L186.7 966.9 L188.0 974.6 L189.5 983.2 L191.1 994.7 L192.5 990.9 L194.0 981.1 L195.5 972.0 L197.0 968.2 L198.5 962.3 L199.8 957.2 L201.5 961.3 L203.0 961.7 L204.2 961.5 L206.0 970.6 L207.4 976.2 L209.0 978.0 L210.5 979.3 L212.0 983.4 L213.5 986.1 L215.0 991.1 L216.5 970.2 L218.0 944.2 L220.0 906.9 L221.0 918.3 L222.5 935.7 L224.0 951.4 L225.9 975.2 L227.0 975.1 L228.5 971.2 L230.0 970.9 L231.4 971.9 L233.0 963.6 L234.5 951.3 L235.7 944.2 L237.5 946.5 L239.0 949.5 L240.1 955.1 L242.0 971.1 L243.5 976.7 L244.4 981.3 L246.5 976.2 L248.8 967.9 L251.0 969.2 L252.5 967.5 L254.0 964.9 L255.5 969.2 L257.0 971.7 L258.5 969.5 L259.7 968.8 L261.5 966.9 L263.0 962.2 L264.5 961.5 L266.0 965.6 L267.5 963.8 L269.0 960.6 L270.5 960.2 L272.0 968.3 L273.5 973.9 L274.9 981.8 L276.5 981.4 L278.0 977.0 L279.5 976.5 L281.0 981.0 L282.5 980.8 L284.0 979.1 L285.8 978.0 L287.0 977.5 L288.5 975.8 L290.1 981.4 L291.5 978.7 L293.0 972.1 L294.5 968.1 L296.0 964.7 L297.5 969.4 L299.3 975.5 L300.5 970.2 L302.0 957.6 L303.6 947.1 L305.0 949.4 L306.5 954.3 L308.0 955.8 L309.5 966.5 L311.2 973.5 L312.5 967.4 L314.0 962.7 L315.5 961.9 L316.7 957.8 L318.5 951.7 L319.9 951.1 L321.5 960.4 L323.0 968.7 L324.5 980.5 L326.0 987.9 L327.6 993.5 L329.0 989.4 L330.5 988.0 L332.0 985.2 L333.5 983.6 L335.0 982.9 L336.5 977.2 L338.4 972.1 L339.5 963.3 L341.7 942.4 L344.0 948.5 L346.1 957.3 L348.5 954.8 L350.0 956.1 L351.5 949.6 L352.6 945.9 L354.5 953.4 L356.0 960.0 L357.5 966.2 L359.0 975.4 L360.2 980.4 L362.0 979.6 L363.5 981.7 L365.7 984.6 L368.9 915.8 L371.0 925.0 L372.2 932.7 L374.0 954.7 L375.5 967.9 L377.0 972.4 L378.5 977.2 L380.9 987.5 L383.0 974.3 L385.2 962.5 L387.5 952.5 L389.0 951.6 L390.5 946.8 L391.8 940.4 L393.5 951.3 L395.0 960.0 L396.5 967.9 L398.3 983.7 L399.5 987.7 L401.0 987.3 L402.7 985.8 L404.0 977.8 L405.9 963.6 L407.0 964.7 L408.5 970.0 L410.0 972.6 L411.4 973.9 L413.0 978.1 L414.5 985.6 L415.7 986.8 L417.5 964.8 L419.0 945.9 L420.1 930.8 L422.5 772.9 L423.5 812.9 L425.0 872.6 L426.6 931.5 L428.0 937.8 L429.5 944.2 L431.0 948.5 L432.5 926.4 L434.2 901.5 L435.5 914.1 L437.0 929.0 L438.5 950.6 L439.7 964.9 L441.5 924.8 L443.0 891.3 L444.0 866.9 L446.0 880.7 L448.4 907.6 L450.5 918.1 L452.0 925.1 L453.5 934.6 L455.0 940.9 L457.1 951.4 L459.5 911.0 L461.0 880.4 L462.5 856.8 L463.6 840.0 L465.8 968.8 L467.0 969.5 L468.5 969.4 L470.1 963.7 L471.5 963.0 L473.0 967.4 L474.5 969.4 L476.0 970.1 L477.5 957.3 L479.0 944.7 L481.4 923.0 L483.5 945.7 L485.8 960.8 L488.0 946.4 L489.5 937.4 L491.0 928.9 L492.3 921.8 L494.0 930.9 L495.5 933.8 L497.8 947.1 L500.0 936.7 L502.1 929.0 L504.5 898.0 L506.5 875.3 L507.5 900.7 L509.7 944.8 L512.0 917.3 L514.1 896.0 L516.5 919.1 L518.0 935.2 L519.5 945.4 L520.6 954.8 L522.5 928.8 L523.5 912.7 L525.5 946.9 L526.5 965.9 L528.5 948.0 L530.0 934.4 L531.5 925.4 L533.7 952.5 L536.0 934.0 L537.5 923.8 L539.0 912.1 L540.2 904.4 L542.0 889.4 L543.5 873.6 L544.6 861.2 L546.7 949.3 L548.9 897.3 L551.0 943.4 L553.3 993.8 L555.5 986.2 L557.0 988.1 L558.7 982.6 L560.0 976.2 L561.5 969.9 L563.1 961.8 L564.5 974.3 L566.0 992.6 L567.4 1008.3 L569.0 992.3 L570.5 979.8 L571.8 971.3 L573.5 966.9 L575.0 960.3 L576.1 956.1 L578.0 978.3 L579.5 995.1 L580.5 1010.8 L582.5 1015.6 L584.0 1015.4 L585.5 1016.1 L587.0 1017.0 L588.5 999.5 L590.3 981.3 L591.5 997.2 L593.5 1017.9 L594.5 1001.9 L596.8 975.4 L599.0 997.1 L601.2 1017.6 L603.5 1007.2 L605.0 1002.2 L606.5 1002.4 L607.7 999.3 L609.5 991.4 L611.0 987.3 L613.1 977.1 L615.5 976.5 L617.0 975.6 L618.5 970.0 L619.7 969.3 L621.5 993.4 L622.9 1012.0 L624.5 996.2 L626.0 982.2 L627.3 964.7 L629.0 901.6 L631.0 835.6 L632.0 889.0 L633.8 983.2 L635.0 975.7 L636.5 967.1 L638.0 955.1 L639.5 946.6 L641.4 935.1 L642.5 915.0 L644.0 884.1 L645.8 854.6 L647.0 871.3 L648.5 892.9 L650.2 919.6 L652.3 877.7 L654.9 974.3 L656.6 962.8 L659.2 988.2 L661.0 976.6 L662.0 984.6 L663.6 998.8 L665.0 999.4 L666.2 996.9 L668.9 1007.5 L671.0 1001.7 L673.2 996.8 L675.5 1007.9 L676.7 1010.3 L678.5 1010.1 L680.0 1012.8 L681.1 1013.6 L683.0 1009.4 L684.5 1007.5 L685.5 1006.2 L687.5 1001.4 L689.9 1001.7 L692.0 1003.8 L693.5 1002.4 L695.0 1003.0 L696.0 1003.3 L698.0 1001.3 L699.5 1003.8 L701.0 1004.4 L703.0 1002.3 L704.0 1002.3 L705.5 1003.7 L707.0 1002.4 L708.5 1001.4 L710.0 1001.2 L711.5 1002.6 L713.0 1004.5 L715.2 1013.2 L717.9 980.3 L719.0 986.2 L720.5 993.7 L722.0 999.3 L724.0 1011.4 L725.0 1010.9 L726.5 1007.6 L728.0 1004.2 L730.1 1003.2 L732.5 1007.6 L734.0 1011.2 L735.5 1012.4 L737.0 1012.9 L738.0 1015.6 L740.0 1017.2 L741.5 1016.6 L743.2 1015.3 L744.5 1004.8 L746.0 990.2 L747.5 975.9 L749.4 961.1 L750.5 966.6 L752.0 971.4 L753.7 981.3 L755.0 984.0 L756.5 986.2 L758.0 989.4 L759.5 992.1 L761.0 991.2 L762.5 992.8 L764.0 999.9 L766.0 1009.8 L767.0 1008.6 L768.5 1008.2 L770.0 1006.9 L771.5 1003.2 L773.0 1002.8 L774.5 1002.6 L776.5 998.6 L777.5 994.4 L779.0 990.5 L780.5 986.4 L782.6 980.5 L785.0 1002.2 L786.1 1009.4 L788.0 1005.9 L789.5 1005.8 L791.0 1003.5 L792.2 1002.5 L794.0 1001.5 L795.5 998.1 L797.5 995.8 L798.5 996.6 L800.0 996.1 L801.5 992.2 L803.0 991.6 L804.5 991.8 L806.0 998.0 L807.5 1007.4 L809.7 1017.6 L812.0 1013.7 L813.5 1014.2 L815.0 1013.1 L816.5 1013.2 L818.0 1014.9 L819.5 1015.5 L821.0 1014.6 L822.5 1017.6 L824.0 1019.8 L825.5 1018.8 L827.0 1018.4 L828.5 1018.8 L830.0 1018.1 L831.5 1019.5 L833.0 1022.8 L834.2 1022.9 L836.0 1017.9 L837.7 1015.1 L839.0 1016.1 L840.5 1015.2 L842.2 1016.2 L843.5 1018.1 L845.0 1018.0 L846.2 1020.4 L848.0 1017.8 L849.5 1022.1 L851.2 1022.0 L852.5 1020.5 L854.0 1018.4 L855.3 1016.9 L857.0 1017.3 L858.5 1018.0 L860.2 1017.9 L861.5 1019.0 L863.0 1020.7 L864.5 1021.9 L866.0 1023.0 L867.5 1024.5 L869.0 1024.5 L870.5 1024.2 L872.0 1024.9 L873.5 1025.8 L875.0 1025.8 L876.5 1025.9 L878.0 1026.1 L879.0 1026.0 L881.0 1025.5 L882.5 1025.9 L884.0 1025.7 L885.5 1025.2 L887.1 1025.3 L888.5 1025.5 L890.0 1025.4 L891.5 1025.6 L893.0 1025.6 L894.5 1024.9 L896.9 1025.2 L899.0 1025.8 L900.5 1025.9 L902.0 1026.3 L903.4 1026.2 L905.0 1025.9 L906.5 1026.3 L908.0 1026.7 L909.5 1026.3 L911.0 1026.3 L912.5 1026.8 L914.8 1026.9 L917.0 1028.3 L918.5 1028.5 L920.0 1028.3 L921.5 1029.3 L923.0 1030.2 L924.5 1029.9 L926.0 1029.8 L927.5 1029.7 L929.0 1028.9 L930.5 1028.6 L932.0 1028.8 L933.5 1028.2 L935.0 1027.7 L936.0 1027.6 L938.0 1028.0 L939.5 1028.3 L941.0 1029.2 L942.5 1029.5 L944.2 1029.2 L945.5 1029.1 L947.0 1029.3 L948.5 1029.3 L950.0 1029.4 L951.5 1029.8 L953.0 1029.6 L954.5 1029.3 L956.0 1029.9 L957.5 1030.2 L959.0 1029.6 L960.5 1029.4 L962.0 1029.5 L963.5 1029.4 L965.0 1029.8 L966.5 1030.6 L968.0 1030.3 L969.5 1029.8 L971.0 1030.0 L972.5 1030.0 L974.0 1030.0 L975.5 1030.2 L976.8 1030.3 L978.5 1030.0 L980.0 1030.1 L981.5 1030.7 L983.0 1030.6 L984.5 1030.1 L986.0 1030.1 L987.5 1029.8 L989.0 1029.7 L990.5 1030.3 L992.0 1030.5 L993.2 1030.3 L995.0 1030.4 L996.5 1030.9 L998.1 1030.9 L999.5 1030.9 L1001.0 1031.1 L1002.5 1030.9 L1004.0 1030.7 L1005.5 1031.1 L1007.0 1031.5 L1008.5 1031.2 L1010.0 1031.1 L1011.5 1030.9 L1013.0 1030.4 L1014.5 1030.6 L1016.0 1031.4 L1017.5 1031.2 L1019.0 1030.9 L1020.5 1031.2 L1022.0 1031.2 L1023.5 1030.9 L1025.0 1031.2 L1026.5 1031.1 L1028.0 1030.4 L1029.5 1030.6 L1031.0 1031.3 L1032.5 1031.3 L1034.0 1031.2 L1035.5 1031.2 L1037.0 1030.9 L1038.5 1030.7 L1040.0 1031.0 L1042.0 1031.0 L1043.0 1030.9 L1044.5 1031.0 L1046.0 1031.2 L1047.5 1031.1 L1049.0 1031.3 L1050.5 1031.5 L1052.0 1031.0 L1053.5 1030.4 L1055.0 1031.0 L1056.5 1031.5 L1058.0 1031.5 L1059.5 1031.8 L1061.0 1031.6 L1062.5 1031.0 L1064.0 1031.2 L1065.5 1031.6 L1067.0 1031.4 L1068.5 1031.3 L1070.0 1031.5 L1071.5 1031.5 L1073.0 1031.5 L1074.5 1031.9 L1076.0 1031.8 L1077.5 1031.1 L1079.0 1031.0 L1080.5 1031.4 L1082.0 1031.5 L1083.5 1031.7 L1085.0 1032.1 L1086.5 1031.6 L1088.0 1031.2 L1089.5 1031.7 L1091.0 1031.8 L1092.5 1031.3 L1094.0 1031.4 L1095.5 1031.5 L1097.0 1031.5 L1098.5 1031.7 L1100.0 1031.9 L1101.5 1031.7 L1103.0 1031.4 L1104.5 1031.5 L1106.0 1031.5 L1107.5 1031.4 L1109.0 1031.7 L1110.5 1031.7 L1112.0 1031.4 L1113.5 1031.6 L1115.0 1031.8 L1116.5 1031.6 L1118.0 1031.3 L1119.5 1031.4 L1121.0 1031.2 L1122.5 1031.3 L1124.0 1032.0 L1125.5 1032.1 L1127.0 1031.4 L1128.5 1031.3 L1130.0 1031.4 L1131.5 1031.1 L1133.0 1031.4 L1134.5 1031.7 L1136.0 1031.3 L1137.5 1031.2 L1139.0 1031.8 L1140.5 1031.9 L1142.0 1031.4 L1143.5 1031.4 L1145.0 1031.1 L1146.5 1030.7 L1148.0 1031.3 L1149.5 1032.1 L1151.0 1031.7 L1152.5 1031.4 L1154.0 1031.5 L1155.5 1031.2 L1157.0 1031.1 L1158.5 1031.5 L1160.0 1031.4 L1161.5 1030.9 L1163.0 1031.3 L1164.5 1031.8 L1166.0 1031.6 L1167.5 1031.5 L1169.0 1031.4 L1170.5 1030.8 L1172.0 1030.7 L1173.5 1031.4 L1175.0 1031.6 L1176.5 1031.3 L1178.0 1031.4 L1179.5 1031.4 L1181.0 1031.1 L1182.5 1031.3 L1184.0 1031.4 L1185.5 1031.0 L1187.0 1030.9 L1188.5 1031.3 L1190.0 1031.4 L1191.5 1031.4 L1193.0 1031.5 L1194.5 1031.2 L1196.0 1030.9 L1197.5 1031.1 L1199.0 1031.3 L1200.0 1031.2 L1202.0 1031.1 L1203.5 1031.3 L1205.0 1031.1 L1206.5 1031.1 L1208.0 1031.3 L1209.5 1031.1 L1211.0 1030.6 L1212.5 1030.7 L1214.0 1031.0 L1215.5 1031.0 L1217.0 1031.2 L1218.5 1031.3 L1220.0 1030.7 L1221.5 1030.4 L1223.0 1030.9 L1224.5 1030.8 L1226.0 1030.5 L1227.5 1030.7 L1229.0 1030.8 L1230.5 1030.6 L1232.0 1031.0 L1233.5 1031.2 L1235.0 1030.4 L1236.5 1030.0 L1238.0 1030.3 L1239.5 1030.4 L1241.0 1030.6 L1242.5 1031.1 L1244.0 1030.8 L1245.5 1030.1 L1247.0 1030.4 L1248.5 1030.6 L1250.0 1030.2 L1251.5 1030.1 L1253.0 1030.3 L1254.5 1030.0 L1256.0 1030.3 L1257.5 1030.9 L1259.0 1030.7 L1260.5 1029.9 L1262.0 1029.9 L1263.5 1029.9 L1265.0 1029.8 L1266.5 1030.2 L1268.0 1030.5 L1269.5 1030.0 L1271.0 1029.9 L1272.5 1030.2 L1274.0 1030.1 L1275.5 1029.8 L1277.0 1029.8 L1278.5 1029.7 L1280.0 1029.6 L1281.5 1030.0 L1283.0 1030.2 L1284.5 1029.9 L1286.0 1029.7 L1287.5 1029.7 L1289.0 1029.6 L1290.0 1029.5 L1292.0 1030.3 L1293.5 1030.4 L1295.0 1030.2 L1297.2 1031.0 L1299.5 1030.1 L1301.0 1029.5 L1302.0 1029.1 L1304.0 1028.6 L1305.5 1028.7 L1307.0 1029.4 L1308.5 1029.3 L1310.0 1028.9 L1311.5 1028.9 L1313.0 1028.6 L1314.5 1028.3 L1316.0 1028.6 L1317.5 1028.7 L1318.7 1028.4 L1320.5 1027.2 L1322.0 1026.9 L1323.5 1026.0 L1324.7 1025.1 L1326.5 1026.3 L1328.0 1026.6 L1329.5 1027.2 L1330.7 1028.4 L1332.5 1028.7 L1334.0 1028.4 L1335.5 1028.2 L1337.0 1028.1 L1337.9 1027.9 L1340.0 1028.0 L1341.5 1028.4 L1343.0 1028.2 L1344.5 1027.8 L1346.0 1028.5 L1347.5 1029.0 L1349.0 1029.0 L1350.5 1029.2 L1352.2 1029.2 L1353.5 1028.1 L1355.0 1027.5 L1357.0 1027.4 L1358.0 1027.3 L1359.5 1027.3 L1361.0 1027.6 L1362.5 1027.4 L1364.2 1027.3 L1365.5 1027.2 L1367.0 1026.9 L1368.5 1025.9 L1370.0 1025.5 L1371.5 1025.6 L1373.0 1025.3 L1374.5 1025.3 L1376.0 1025.2 L1377.5 1024.3 L1379.7 1023.6 L1382.0 1024.2 L1383.5 1024.1 L1385.0 1024.5 L1386.5 1024.9 L1388.0 1024.8 L1389.5 1025.3 L1391.7 1025.7 L1394.0 1025.0 L1395.5 1024.9 L1397.0 1024.9 L1398.5 1024.8 L1400.0 1025.4 L1401.5 1025.3 L1403.0 1024.5 L1404.5 1024.4 L1406.1 1024.5 L1407.5 1022.2 L1409.0 1019.7 L1410.5 1017.7 L1412.0 1015.3 L1413.2 1013.5 L1415.0 1015.9 L1416.5 1017.8 L1418.0 1018.6 L1419.5 1020.1 L1421.6 1022.5 L1422.5 1021.7 L1424.0 1020.8 L1425.5 1020.2 L1427.0 1018.7 L1428.5 1017.2 L1430.0 1016.4 L1431.2 1015.5 L1433.0 1015.7 L1434.5 1016.2 L1436.0 1016.5 L1437.5 1013.0 L1439.6 1009.5 L1440.5 1013.2 L1442.0 1017.9 L1443.5 1015.8 L1445.0 1013.9 L1446.5 1011.6 L1448.5 1009.3 L1449.5 1010.4 L1451.0 1012.0 L1452.5 1012.9 L1454.0 1014.5 L1455.5 1016.2 L1457.5 1017.8 L1458.5 1015.1 L1460.0 1011.2 L1461.1 1008.1" stroke="#ff7f0e" stroke-width="2.2" fill="none" stroke-linejoin="round"/></g>
<rect x="116.5" y="575.5" width="1346.0" height="479.0" fill="none" stroke="#000" stroke-width="1.1"/>
<path d="M116.5 1054.5v5 M284.5 1054.5v5 M452.5 1054.5v5 M620.5 1054.5v5 M789.5 1054.5v5 M957.5 1054.5v5 M1125.5 1054.5v5 M1294.5 1054.5v5 M116.5 619.5h-5 M116.5 702.5h-5 M116.5 785.5h-5 M116.5 867.5h-5 M116.5 950.5h-5 M116.5 1033.5h-5" stroke="#000" stroke-width="1.1" fill="none"/>
<rect x="1047.5" y="49.0" width="406.0" height="79.0" rx="3" ry="3" fill="#fff" fill-opacity="0.8" stroke="#cccccc" stroke-width="1.1"/>
<circle cx="1073.5" cy="63.1" r="3.1" fill="#1f77b4"/>
<path d="M1053 102.0H1092" stroke="#ff7f0e" stroke-width="2.1"/>
<text x="1107.3" y="69.4" font-family="Liberation Sans, sans-serif" font-weight="bold" stroke="#000" stroke-width="0.45" font-size="18.5" text-anchor="start" textLength="97" lengthAdjust="spacingAndGlyphs" >Raw Data</text>
<text x="1107.3" y="96.0" font-family="Liberation Sans, sans-serif" font-weight="bold" stroke="#000" stroke-width="0.45" font-size="18.5" text-anchor="start" textLength="270" lengthAdjust="spacingAndGlyphs" >Butterworth Filtered Data</text>
<text x="1107.3" y="116.4" font-family="Liberation Sans, sans-serif" font-weight="bold" stroke="#000" stroke-width="0.45" font-size="18.5" text-anchor="start" textLength="337" lengthAdjust="spacingAndGlyphs" >(N=6, Tc=3.3333 min, Type: low)</text>
<rect x="1047.5" y="586.0" width="406.0" height="79.0" rx="3" ry="3" fill="#fff" fill-opacity="0.8" stroke="#cccccc" stroke-width="1.1"/>
<circle cx="1073.5" cy="600.1" r="3.1" fill="#1f77b4"/>
<path d="M1053 639.0H1092" stroke="#ff7f0e" stroke-width="2.1"/>
<text x="1107.3" y="606.4" font-family="Liberation Sans, sans-serif" font-weight="bold" stroke="#000" stroke-width="0.45" font-size="18.5" text-anchor="start" textLength="97" lengthAdjust="spacingAndGlyphs" >Raw Data</text>
<text x="1107.3" y="633.0" font-family="Liberation Sans, sans-serif" font-weight="bold" stroke="#000" stroke-width="0.45" font-size="18.5" text-anchor="start" textLength="270" lengthAdjust="spacingAndGlyphs" >Butterworth Filtered Data</text>
<text x="1107.3" y="653.4" font-family="Liberation Sans, sans-serif" font-weight="bold" stroke="#000" stroke-width="0.45" font-size="18.5" text-anchor="start" textLength="337" lengthAdjust="spacingAndGlyphs" >(N=6, Tc=3.3333 min, Type: low)</text>
<text x="784.6" y="29.8" font-family="Liberation Sans, sans-serif" font-weight="bold" stroke="#000" stroke-width="0.45" font-size="27.8" text-anchor="middle" textLength="298" lengthAdjust="spacingAndGlyphs" >10.0 MHz N0000033</text>
<text x="116.5" y="28.8" font-family="Liberation Sans, sans-serif" font-weight="bold" stroke="#000" stroke-width="0.45" font-size="26" text-anchor="start" textLength="42" lengthAdjust="spacingAndGlyphs" >(a)</text>
<text x="116.5" y="565.8" font-family="Liberation Sans, sans-serif" font-weight="bold" stroke="#000" stroke-width="0.45" font-size="26" text-anchor="start" textLength="42" lengthAdjust="spacingAndGlyphs" >(b)</text>
<text x="105.5" y="140.3" font-family="Liberation Sans, sans-serif" font-weight="bold" stroke="#000" stroke-width="0.45" font-size="22.2" text-anchor="end" textLength="14.5" lengthAdjust="spacingAndGlyphs" >2</text>
<text x="105.5" y="239.3" font-family="Liberation Sans, sans-serif" font-weight="bold" stroke="#000" stroke-width="0.45" font-size="22.2" text-anchor="end" textLength="14.5" lengthAdjust="spacingAndGlyphs" >0</text>
<text x="105.5" y="339.3" font-family="Liberation Sans, sans-serif" font-weight="bold" stroke="#000" stroke-width="0.45" font-size="22.2" text-anchor="end" textLength="31" lengthAdjust="spacingAndGlyphs" >−2</text>
<text x="105.5" y="438.3" font-family="Liberation Sans, sans-serif" font-weight="bold" stroke="#000" stroke-width="0.45" font-size="22.2" text-anchor="end" textLength="31" lengthAdjust="spacingAndGlyphs" >−4</text>
<text x="105.5" y="627.3" font-family="Liberation Sans, sans-serif" font-weight="bold" stroke="#000" stroke-width="0.45" font-size="22.2" text-anchor="end" textLength="38" lengthAdjust="spacingAndGlyphs" >0.5</text>
<text x="105.5" y="710.3" font-family="Liberation Sans, sans-serif" font-weight="bold" stroke="#000" stroke-width="0.45" font-size="22.2" text-anchor="end" textLength="38" lengthAdjust="spacingAndGlyphs" >0.4</text>
<text x="105.5" y="793.3" font-family="Liberation Sans, sans-serif" font-weight="bold" stroke="#000" stroke-width="0.45" font-size="22.2" text-anchor="end" textLength="38" lengthAdjust="spacingAndGlyphs" >0.3</text>
<text x="105.5" y="875.3" font-family="Liberation Sans, sans-serif" font-weight="bold" stroke="#000" stroke-width="0.45" font-size="22.2" text-anchor="end" textLength="38" lengthAdjust="spacingAndGlyphs" >0.2</text>
<text x="105.5" y="958.3" font-family="Liberation Sans, sans-serif" font-weight="bold" stroke="#000" stroke-width="0.45" font-size="22.2" text-anchor="end" textLength="38" lengthAdjust="spacingAndGlyphs" >0.1</text>
<text x="105.5" y="1041.3" font-family="Liberation Sans, sans-serif" font-weight="bold" stroke="#000" stroke-width="0.45" font-size="22.2" text-anchor="end" textLength="38" lengthAdjust="spacingAndGlyphs" >0.0</text>
<text transform="translate(60,279) rotate(-90)" font-family="Liberation Sans, sans-serif" font-weight="bold" stroke="#000" stroke-width="0.45" font-size="22.2" text-anchor="middle" textLength="226" lengthAdjust="spacingAndGlyphs">Doppler Shift [Hz]</text>
<text transform="translate(55,815) rotate(-90)" font-family="Liberation Sans, sans-serif" font-weight="bold" stroke="#000" stroke-width="0.45" font-size="22.2" text-anchor="middle" textLength="208" lengthAdjust="spacingAndGlyphs">Peak Voltage [V]</text>
<text transform="translate(105.0,1064.0) rotate(-30)" font-family="Liberation Sans, sans-serif" font-weight="bold" stroke="#000" stroke-width="0.45" font-size="22.2" text-anchor="end" dominant-baseline="hanging" textLength="111" lengthAdjust="spacingAndGlyphs">05-18 00</text>
<text transform="translate(273.0,1064.0) rotate(-30)" font-family="Liberation Sans, sans-serif" font-weight="bold" stroke="#000" stroke-width="0.45" font-size="22.2" text-anchor="end" dominant-baseline="hanging" textLength="111" lengthAdjust="spacingAndGlyphs">05-18 03</text>
<text transform="translate(441.0,1064.0) rotate(-30)" font-family="Liberation Sans, sans-serif" font-weight="bold" stroke="#000" stroke-width="0.45" font-size="22.2" text-anchor="end" dominant-baseline="hanging" textLength="111" lengthAdjust="spacingAndGlyphs">05-18 06</text>
<text transform="translate(609.0,1064.0) rotate(-30)" font-family="Liberation Sans, sans-serif" font-weight="bold" stroke="#000" stroke-width="0.45" font-size="22.2" text-anchor="end" dominant-baseline="hanging" textLength="111" lengthAdjust="spacingAndGlyphs">05-18 09</text>
<text transform="translate(778.0,1064.0) rotate(-30)" font-family="Liberation Sans, sans-serif" font-weight="bold" stroke="#000" stroke-width="0.45" font-size="22.2" text-anchor="end" dominant-baseline="hanging" textLength="111" lengthAdjust="spacingAndGlyphs">05-18 12</text>
<text transform="translate(946.0,1064.0) rotate(-30)" font-family="Liberation Sans, sans-serif" font-weight="bold" stroke="#000" stroke-width="0.45" font-size="22.2" text-anchor="end" dominant-baseline="hanging" textLength="111" lengthAdjust="spacingAndGlyphs">05-18 15</text>
<text transform="translate(1114.0,1064.0) rotate(-30)" font-family="Liberation Sans, sans-serif" font-weight="bold" stroke="#000" stroke-width="0.45" font-size="22.2" text-anchor="end" dominant-baseline="hanging" textLength="111" lengthAdjust="spacingAndGlyphs">05-18 18</text>
<text transform="translate(1283.0,1064.0) rotate(-30)" font-family="Liberation Sans, sans-serif" font-weight="bold" stroke="#000" stroke-width="0.45" font-size="22.2" text-anchor="end" dominant-baseline="hanging" textLength="111" lengthAdjust="spacingAndGlyphs">05-18 21</text>
<text x="789" y="1157.8" font-family="Liberation Sans, sans-serif" font-weight="bold" stroke="#000" stroke-width="0.45" font-size="22.2" text-anchor="middle" textLength="48" lengthAdjust="spacingAndGlyphs" >UTC</text>
</svg></body></html>
